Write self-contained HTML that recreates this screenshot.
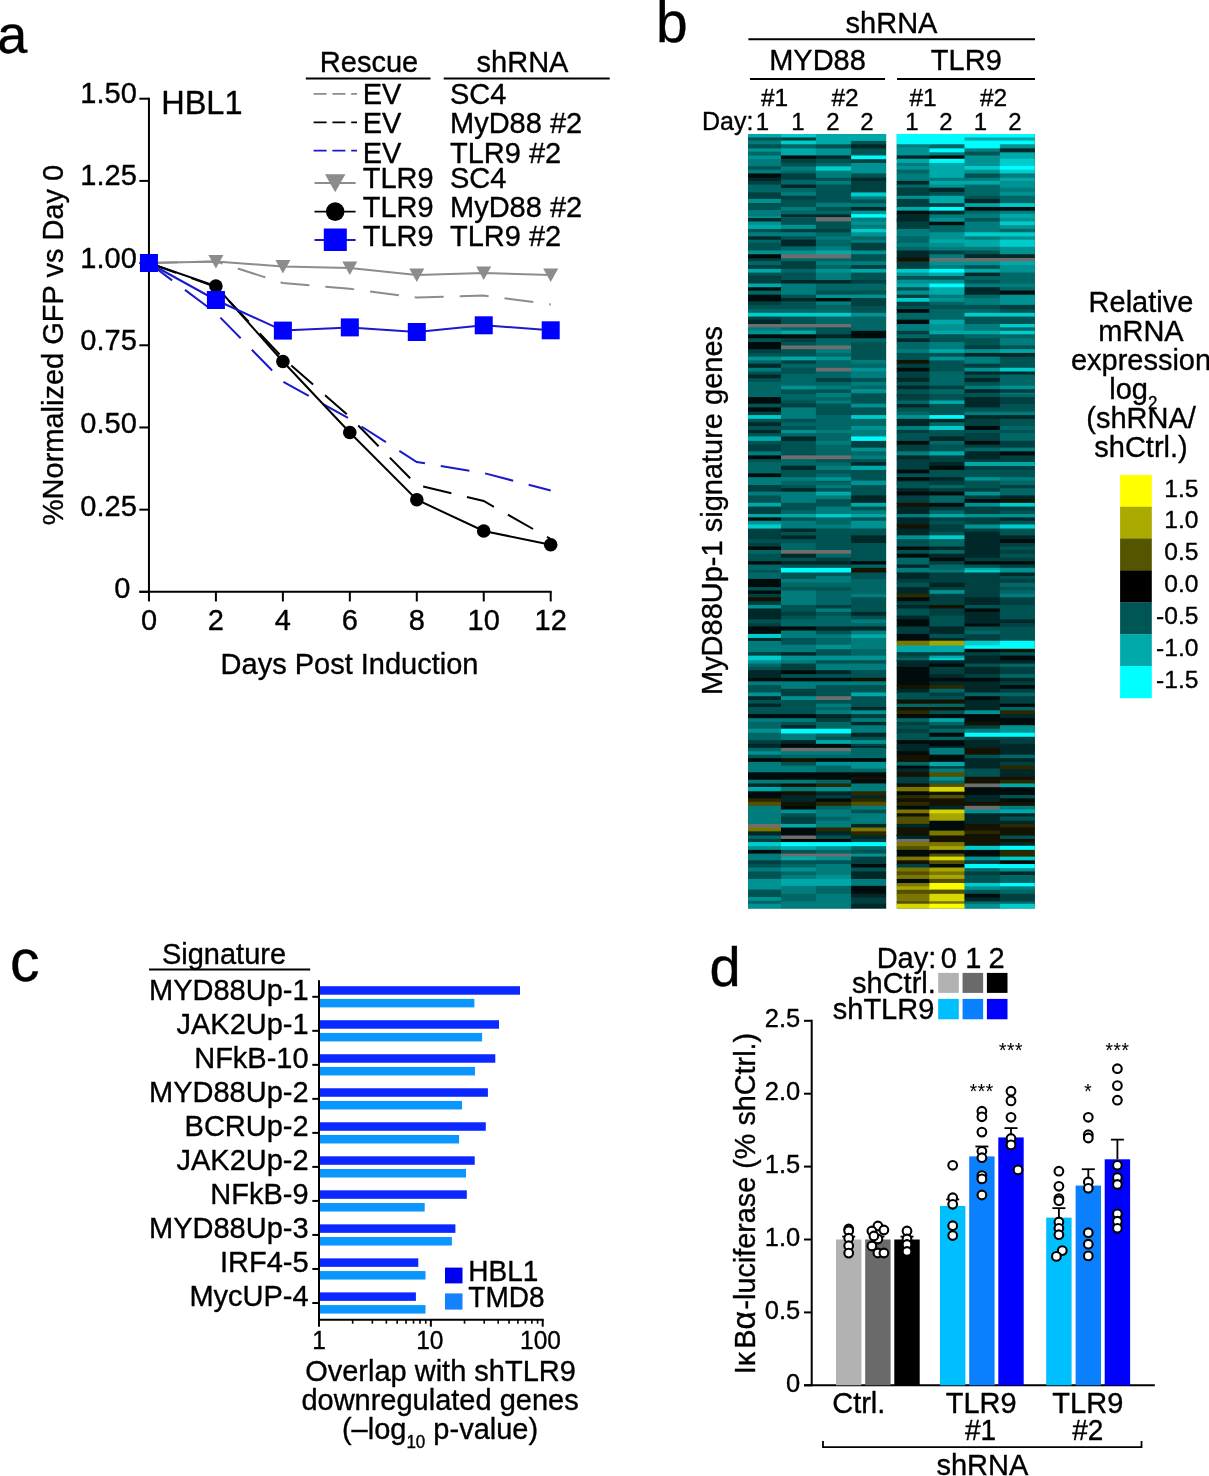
<!DOCTYPE html>
<html lang="en">
<head>
<meta charset="utf-8">
<title>Figure</title>
<style>
html,body{margin:0;padding:0;background:#fff;}
body{width:1209px;height:1476px;overflow:hidden;}
svg{display:block;font-family:'Liberation Sans', 'DejaVu Sans', sans-serif;}
text{stroke:#000;stroke-width:0.35px;stroke-linejoin:round;}
</style>
</head>
<body>
<svg width="1209" height="1476" viewBox="0 0 1209 1476">
<rect width="1209" height="1476" fill="#ffffff"/>
<g id="panel-a">
<text transform="translate(-2.80,52.50) scale(1,1.0)" font-size="54" text-anchor="start" fill="#000" >a</text>
<line x1="148.95" y1="97.70" x2="148.95" y2="592.85" stroke="#000" stroke-width="2" />
<line x1="139.35" y1="591.85" x2="551.71" y2="591.85" stroke="#000" stroke-width="2" />
<line x1="139.35" y1="591.85" x2="148.95" y2="591.85" stroke="#000" stroke-width="2" />
<text transform="translate(130.50,598.10) scale(1,1.04)" font-size="29" text-anchor="end" fill="#000" >0</text>
<line x1="139.35" y1="509.66" x2="148.95" y2="509.66" stroke="#000" stroke-width="2" />
<text transform="translate(136.80,515.55) scale(1,1.04)" font-size="29" text-anchor="end" fill="#000" >0.25</text>
<line x1="139.35" y1="427.47" x2="148.95" y2="427.47" stroke="#000" stroke-width="2" />
<text transform="translate(136.80,433.00) scale(1,1.04)" font-size="29" text-anchor="end" fill="#000" >0.50</text>
<line x1="139.35" y1="345.28" x2="148.95" y2="345.28" stroke="#000" stroke-width="2" />
<text transform="translate(136.80,350.45) scale(1,1.04)" font-size="29" text-anchor="end" fill="#000" >0.75</text>
<line x1="139.35" y1="263.09" x2="148.95" y2="263.09" stroke="#000" stroke-width="2" />
<text transform="translate(136.80,267.90) scale(1,1.04)" font-size="29" text-anchor="end" fill="#000" >1.00</text>
<line x1="139.35" y1="180.90" x2="148.95" y2="180.90" stroke="#000" stroke-width="2" />
<text transform="translate(136.80,185.35) scale(1,1.04)" font-size="29" text-anchor="end" fill="#000" >1.25</text>
<line x1="139.35" y1="98.71" x2="148.95" y2="98.71" stroke="#000" stroke-width="2" />
<text transform="translate(136.80,102.80) scale(1,1.04)" font-size="29" text-anchor="end" fill="#000" >1.50</text>
<line x1="148.95" y1="591.85" x2="148.95" y2="601.45" stroke="#000" stroke-width="2" />
<text transform="translate(148.95,629.60) scale(1,1.04)" font-size="29" text-anchor="middle" fill="#000" >0</text>
<line x1="215.91" y1="591.85" x2="215.91" y2="601.45" stroke="#000" stroke-width="2" />
<text transform="translate(215.91,629.60) scale(1,1.04)" font-size="29" text-anchor="middle" fill="#000" >2</text>
<line x1="282.87" y1="591.85" x2="282.87" y2="601.45" stroke="#000" stroke-width="2" />
<text transform="translate(282.87,629.60) scale(1,1.04)" font-size="29" text-anchor="middle" fill="#000" >4</text>
<line x1="349.83" y1="591.85" x2="349.83" y2="601.45" stroke="#000" stroke-width="2" />
<text transform="translate(349.83,629.60) scale(1,1.04)" font-size="29" text-anchor="middle" fill="#000" >6</text>
<line x1="416.79" y1="591.85" x2="416.79" y2="601.45" stroke="#000" stroke-width="2" />
<text transform="translate(416.79,629.60) scale(1,1.04)" font-size="29" text-anchor="middle" fill="#000" >8</text>
<line x1="483.75" y1="591.85" x2="483.75" y2="601.45" stroke="#000" stroke-width="2" />
<text transform="translate(483.75,629.60) scale(1,1.04)" font-size="29" text-anchor="middle" fill="#000" >10</text>
<line x1="550.71" y1="591.85" x2="550.71" y2="601.45" stroke="#000" stroke-width="2" />
<text transform="translate(550.71,629.60) scale(1,1.04)" font-size="29" text-anchor="middle" fill="#000" >12</text>
<text transform="translate(349.50,674.00) scale(1,1.04)" font-size="29" text-anchor="middle" fill="#000" >Days Post Induction</text>
<text transform="translate(62.70,345.00) rotate(-90) scale(1,1.04)" font-size="29" text-anchor="middle">%Normalized GFP vs Day 0</text>
<text transform="translate(161.20,113.60) scale(1,1.04)" font-size="32.5" text-anchor="start" fill="#000" >HBL1</text>
<polyline points="148.9,263.0 215.9,261.5 282.9,283.0 349.8,288.8 416.8,297.5 483.7,295.6 550.7,304.4" fill="none" stroke="#8c8c8c" stroke-width="2" stroke-dasharray="29 16"/>
<polyline points="148.9,263.0 215.9,287.0 282.9,358.0 349.8,417.0 416.8,485.0 483.7,501.0 550.7,539.0" fill="none" stroke="#000" stroke-width="2" stroke-dasharray="29 16"/>
<polyline points="148.9,263.0 215.9,313.0 282.9,381.5 349.8,419.0 416.8,462.0 483.7,473.0 550.7,490.5" fill="none" stroke="#1a1acd" stroke-width="2" stroke-dasharray="29 16"/>
<polyline points="148.9,263.0 215.9,261.5 282.9,266.5 349.8,268.0 416.8,275.0 483.7,273.0 550.7,275.0" fill="none" stroke="#8c8c8c" stroke-width="2"/>
<polyline points="148.9,263.0 215.9,286.0 282.9,361.5 349.8,432.5 416.8,499.7 483.7,531.0 550.7,544.7" fill="none" stroke="#000" stroke-width="2"/>
<polyline points="148.9,263.0 215.9,300.0 282.9,330.6 349.8,327.4 416.8,332.0 483.7,325.3 550.7,330.3" fill="none" stroke="#1a1acd" stroke-width="2"/>
<polygon points="208.4,255.0 223.4,255.0 215.9,268.5" fill="#8c8c8c"/>
<polygon points="275.4,260.0 290.4,260.0 282.9,273.5" fill="#8c8c8c"/>
<polygon points="342.3,261.5 357.3,261.5 349.8,275.0" fill="#8c8c8c"/>
<polygon points="409.3,268.5 424.3,268.5 416.8,282.0" fill="#8c8c8c"/>
<polygon points="476.2,266.5 491.2,266.5 483.7,280.0" fill="#8c8c8c"/>
<polygon points="543.2,268.5 558.2,268.5 550.7,282.0" fill="#8c8c8c"/>
<circle cx="215.9" cy="286.0" r="6.8" fill="#000"/>
<circle cx="282.9" cy="361.5" r="6.8" fill="#000"/>
<circle cx="349.8" cy="432.5" r="6.8" fill="#000"/>
<circle cx="416.8" cy="499.7" r="6.8" fill="#000"/>
<circle cx="483.7" cy="531.0" r="6.8" fill="#000"/>
<circle cx="550.7" cy="544.7" r="6.8" fill="#000"/>
<rect x="139.95" y="254.00" width="18.00" height="18.00" fill="#0000ff"/>
<rect x="206.91" y="291.00" width="18.00" height="18.00" fill="#0000ff"/>
<rect x="273.87" y="321.60" width="18.00" height="18.00" fill="#0000ff"/>
<rect x="340.83" y="318.40" width="18.00" height="18.00" fill="#0000ff"/>
<rect x="407.79" y="323.00" width="18.00" height="18.00" fill="#0000ff"/>
<rect x="474.75" y="316.30" width="18.00" height="18.00" fill="#0000ff"/>
<rect x="541.71" y="321.30" width="18.00" height="18.00" fill="#0000ff"/>
<text transform="translate(369.00,71.80) scale(1,1.04)" font-size="29" text-anchor="middle" fill="#000" >Rescue</text>
<text transform="translate(522.50,71.80) scale(1,1.04)" font-size="29" text-anchor="middle" fill="#000" >shRNA</text>
<line x1="305.80" y1="78.40" x2="430.50" y2="78.40" stroke="#000" stroke-width="2" />
<line x1="443.70" y1="78.40" x2="609.70" y2="78.40" stroke="#000" stroke-width="2" />
<text transform="translate(362.70,104.10) scale(1,1.04)" font-size="29" text-anchor="start" fill="#000" >EV</text>
<text transform="translate(450.00,104.10) scale(1,1.04)" font-size="29" text-anchor="start" fill="#000" >SC4</text>
<text transform="translate(362.70,133.20) scale(1,1.04)" font-size="29" text-anchor="start" fill="#000" >EV</text>
<text transform="translate(450.00,133.20) scale(1,1.04)" font-size="29" text-anchor="start" fill="#000" >MyD88 #2</text>
<text transform="translate(362.70,162.80) scale(1,1.04)" font-size="29" text-anchor="start" fill="#000" >EV</text>
<text transform="translate(450.00,162.80) scale(1,1.04)" font-size="29" text-anchor="start" fill="#000" >TLR9 #2</text>
<text transform="translate(362.70,188.00) scale(1,1.04)" font-size="29" text-anchor="start" fill="#000" >TLR9</text>
<text transform="translate(450.00,188.00) scale(1,1.04)" font-size="29" text-anchor="start" fill="#000" >SC4</text>
<text transform="translate(362.70,216.60) scale(1,1.04)" font-size="29" text-anchor="start" fill="#000" >TLR9</text>
<text transform="translate(450.00,216.60) scale(1,1.04)" font-size="29" text-anchor="start" fill="#000" >MyD88 #2</text>
<text transform="translate(362.70,245.60) scale(1,1.04)" font-size="29" text-anchor="start" fill="#000" >TLR9</text>
<text transform="translate(450.00,245.60) scale(1,1.04)" font-size="29" text-anchor="start" fill="#000" >TLR9 #2</text>
<line x1="313.60" y1="93.90" x2="357.00" y2="93.90" stroke="#8c8c8c" stroke-width="1.8" stroke-dasharray="13 5.8"/>
<line x1="313.60" y1="122.40" x2="357.00" y2="122.40" stroke="#000" stroke-width="1.8" stroke-dasharray="13 5.8"/>
<line x1="313.60" y1="150.60" x2="357.00" y2="150.60" stroke="#1a1acd" stroke-width="1.8" stroke-dasharray="13 5.8"/>
<line x1="314.50" y1="183.00" x2="355.60" y2="183.00" stroke="#8c8c8c" stroke-width="1.8" />
<polygon points="325,174.3 345.4,174.3 335.2,192.3" fill="#8c8c8c"/>
<line x1="314.50" y1="211.60" x2="355.60" y2="211.60" stroke="#000" stroke-width="1.8" />
<circle cx="335.2" cy="211.6" r="9.3" fill="#000"/>
<line x1="314.50" y1="240.00" x2="355.60" y2="240.00" stroke="#1a1acd" stroke-width="1.8" />
<rect x="323.80" y="228.50" width="23.00" height="22.50" fill="#0000ff"/>
</g>
<g id="panel-b">
<text transform="translate(656.00,41.70) scale(1,1.0)" font-size="57" text-anchor="start" fill="#000" >b</text>
<text transform="translate(891.50,33.00) scale(1,1.04)" font-size="29" text-anchor="middle" fill="#000" >shRNA</text>
<line x1="748.40" y1="39.30" x2="1035.00" y2="39.30" stroke="#000" stroke-width="2" />
<text transform="translate(817.50,69.50) scale(1,1.04)" font-size="29" text-anchor="middle" fill="#000" >MYD88</text>
<text transform="translate(966.30,69.50) scale(1,1.04)" font-size="29" text-anchor="middle" fill="#000" >TLR9</text>
<line x1="750.00" y1="78.90" x2="885.00" y2="78.90" stroke="#000" stroke-width="2" />
<line x1="897.00" y1="78.90" x2="1035.00" y2="78.90" stroke="#000" stroke-width="2" />
<text transform="translate(774.50,106.00) scale(1,1.0)" font-size="24.5" text-anchor="middle" fill="#000" >#1</text>
<text transform="translate(845.00,106.00) scale(1,1.0)" font-size="24.5" text-anchor="middle" fill="#000" >#2</text>
<text transform="translate(923.00,106.00) scale(1,1.0)" font-size="24.5" text-anchor="middle" fill="#000" >#1</text>
<text transform="translate(993.50,106.00) scale(1,1.0)" font-size="24.5" text-anchor="middle" fill="#000" >#2</text>
<text transform="translate(702.00,130.30) scale(1,1.04)" font-size="25" text-anchor="start" fill="#000" >Day:</text>
<text transform="translate(762.50,130.30) scale(1,0.98)" font-size="24" text-anchor="middle" fill="#000" >1</text>
<text transform="translate(798.00,130.30) scale(1,0.98)" font-size="24" text-anchor="middle" fill="#000" >1</text>
<text transform="translate(833.00,130.30) scale(1,0.98)" font-size="24" text-anchor="middle" fill="#000" >2</text>
<text transform="translate(867.00,130.30) scale(1,0.98)" font-size="24" text-anchor="middle" fill="#000" >2</text>
<text transform="translate(912.00,130.30) scale(1,0.98)" font-size="24" text-anchor="middle" fill="#000" >1</text>
<text transform="translate(946.00,130.30) scale(1,0.98)" font-size="24" text-anchor="middle" fill="#000" >2</text>
<text transform="translate(980.50,130.30) scale(1,0.98)" font-size="24" text-anchor="middle" fill="#000" >1</text>
<text transform="translate(1015.00,130.30) scale(1,0.98)" font-size="24" text-anchor="middle" fill="#000" >2</text>
<text transform="translate(721.70,510.50) rotate(-90) scale(1,1.04)" font-size="29" text-anchor="middle">MyD88Up-1 signature genes</text>
<defs><clipPath id="hc"><rect x="748.0" y="134.1" width="138.10000000000002" height="774.3"/><rect x="896.8" y="134.1" width="138.0" height="774.3"/></clipPath></defs>
<g id="heatmap" clip-path="url(#hc)"><g>
<rect x="745.00" y="130.10" width="144.10" height="782.30" fill="#005050"/>
<rect x="893.80" y="130.10" width="144.00" height="782.30" fill="#005050"/>
<rect x="745.00" y="130.10" width="36.80" height="8.54" fill="#00a9a9"/>
<rect x="745.00" y="137.44" width="36.80" height="4.30" fill="#005353"/>
<rect x="745.00" y="140.55" width="36.80" height="4.92" fill="#007c7c"/>
<rect x="745.00" y="144.27" width="36.80" height="5.29" fill="#005353"/>
<rect x="745.00" y="148.36" width="36.80" height="4.55" fill="#009292"/>
<rect x="745.00" y="151.71" width="36.80" height="4.92" fill="#006666"/>
<rect x="745.00" y="155.43" width="36.80" height="4.92" fill="#009292"/>
<rect x="745.00" y="159.16" width="36.80" height="8.40" fill="#007c7c"/>
<rect x="745.00" y="166.35" width="36.80" height="4.55" fill="#005353"/>
<rect x="745.00" y="169.70" width="36.80" height="4.92" fill="#007c7c"/>
<rect x="745.00" y="173.42" width="36.80" height="5.54" fill="#000c0c"/>
<rect x="745.00" y="177.77" width="36.80" height="4.30" fill="#002828"/>
<rect x="745.00" y="180.87" width="36.80" height="4.92" fill="#004040"/>
<rect x="745.00" y="184.59" width="36.80" height="9.02" fill="#006666"/>
<rect x="745.00" y="192.41" width="36.80" height="7.65" fill="#004040"/>
<rect x="745.00" y="198.86" width="36.80" height="5.29" fill="#009292"/>
<rect x="745.00" y="202.95" width="36.80" height="8.27" fill="#005353"/>
<rect x="745.00" y="210.02" width="36.80" height="7.40" fill="#007c7c"/>
<rect x="745.00" y="216.23" width="36.80" height="4.92" fill="#009292"/>
<rect x="781.00" y="130.10" width="35.70" height="8.54" fill="#00cccc"/>
<rect x="781.00" y="137.44" width="35.70" height="4.30" fill="#004040"/>
<rect x="781.00" y="140.55" width="35.70" height="4.92" fill="#00cccc"/>
<rect x="781.00" y="144.27" width="35.70" height="5.29" fill="#006666"/>
<rect x="781.00" y="148.36" width="35.70" height="8.27" fill="#00a9a9"/>
<rect x="781.00" y="155.43" width="35.70" height="4.55" fill="#000c0c"/>
<rect x="781.00" y="158.78" width="35.70" height="5.29" fill="#004040"/>
<rect x="781.00" y="162.88" width="35.70" height="4.67" fill="#005353"/>
<rect x="781.00" y="166.35" width="35.70" height="5.54" fill="#007c7c"/>
<rect x="781.00" y="170.69" width="35.70" height="3.93" fill="#006666"/>
<rect x="781.00" y="173.42" width="35.70" height="7.40" fill="#004040"/>
<rect x="781.00" y="179.63" width="35.70" height="6.16" fill="#006666"/>
<rect x="781.00" y="184.59" width="35.70" height="4.67" fill="#002828"/>
<rect x="781.00" y="188.06" width="35.70" height="5.17" fill="#006666"/>
<rect x="781.00" y="192.03" width="35.70" height="4.92" fill="#007c7c"/>
<rect x="781.00" y="195.76" width="35.70" height="4.92" fill="#004040"/>
<rect x="781.00" y="199.48" width="35.70" height="8.64" fill="#005353"/>
<rect x="781.00" y="206.92" width="35.70" height="4.92" fill="#007c7c"/>
<rect x="781.00" y="210.65" width="35.70" height="4.92" fill="#006666"/>
<rect x="781.00" y="214.37" width="35.70" height="3.93" fill="#002828"/>
<rect x="781.00" y="217.10" width="35.70" height="4.05" fill="#006666"/>
<rect x="815.90" y="130.10" width="36.00" height="15.37" fill="#00a9a9"/>
<rect x="815.90" y="144.27" width="36.00" height="5.29" fill="#005353"/>
<rect x="815.90" y="148.36" width="36.00" height="8.27" fill="#009292"/>
<rect x="815.90" y="155.43" width="36.00" height="4.55" fill="#002828"/>
<rect x="815.90" y="158.78" width="36.00" height="5.29" fill="#005353"/>
<rect x="815.90" y="162.88" width="36.00" height="4.67" fill="#006666"/>
<rect x="815.90" y="166.35" width="36.00" height="5.54" fill="#00cccc"/>
<rect x="815.90" y="170.69" width="36.00" height="8.27" fill="#007c7c"/>
<rect x="815.90" y="177.77" width="36.00" height="4.30" fill="#005353"/>
<rect x="815.90" y="180.87" width="36.00" height="4.92" fill="#007c7c"/>
<rect x="815.90" y="184.59" width="36.00" height="19.19" fill="#005353"/>
<rect x="815.90" y="202.58" width="36.00" height="5.54" fill="#007c7c"/>
<rect x="815.90" y="206.92" width="36.00" height="4.92" fill="#005353"/>
<rect x="815.90" y="210.65" width="36.00" height="4.92" fill="#006666"/>
<rect x="815.90" y="214.37" width="36.00" height="3.93" fill="#002828"/>
<rect x="815.90" y="217.10" width="36.00" height="4.05" fill="#6e6e6e"/>
<rect x="851.10" y="130.10" width="38.00" height="12.02" fill="#00a9a9"/>
<rect x="851.10" y="140.92" width="38.00" height="4.55" fill="#005353"/>
<rect x="851.10" y="144.27" width="38.00" height="5.29" fill="#002828"/>
<rect x="851.10" y="148.36" width="38.00" height="8.27" fill="#005353"/>
<rect x="851.10" y="155.43" width="38.00" height="4.92" fill="#00fcfc"/>
<rect x="851.10" y="159.16" width="38.00" height="4.92" fill="#004040"/>
<rect x="851.10" y="162.88" width="38.00" height="11.75" fill="#009292"/>
<rect x="851.10" y="173.42" width="38.00" height="5.54" fill="#005353"/>
<rect x="851.10" y="177.77" width="38.00" height="4.30" fill="#002828"/>
<rect x="851.10" y="180.87" width="38.00" height="12.74" fill="#004040"/>
<rect x="851.10" y="192.41" width="38.00" height="5.17" fill="#00cccc"/>
<rect x="851.10" y="196.38" width="38.00" height="4.30" fill="#007c7c"/>
<rect x="851.10" y="199.48" width="38.00" height="4.92" fill="#005353"/>
<rect x="851.10" y="203.20" width="38.00" height="4.92" fill="#007c7c"/>
<rect x="851.10" y="206.92" width="38.00" height="4.92" fill="#002828"/>
<rect x="851.10" y="210.65" width="38.00" height="4.67" fill="#009292"/>
<rect x="851.10" y="214.12" width="38.00" height="4.67" fill="#00fcfc"/>
<rect x="851.10" y="217.59" width="38.00" height="3.56" fill="#007c7c"/>
<rect x="893.80" y="130.10" width="36.40" height="15.37" fill="#00fcfc"/>
<rect x="893.80" y="144.27" width="36.40" height="4.30" fill="#007c7c"/>
<rect x="893.80" y="147.37" width="36.40" height="9.26" fill="#009292"/>
<rect x="893.80" y="155.43" width="36.40" height="4.55" fill="#002828"/>
<rect x="893.80" y="158.78" width="36.40" height="5.29" fill="#00a9a9"/>
<rect x="893.80" y="162.88" width="36.40" height="4.30" fill="#007c7c"/>
<rect x="893.80" y="165.98" width="36.40" height="4.92" fill="#009292"/>
<rect x="893.80" y="169.70" width="36.40" height="4.92" fill="#006666"/>
<rect x="893.80" y="173.42" width="36.40" height="8.64" fill="#007c7c"/>
<rect x="893.80" y="180.87" width="36.40" height="4.92" fill="#002828"/>
<rect x="893.80" y="184.59" width="36.40" height="4.30" fill="#006666"/>
<rect x="893.80" y="187.69" width="36.40" height="9.26" fill="#004040"/>
<rect x="893.80" y="195.76" width="36.40" height="4.30" fill="#009292"/>
<rect x="893.80" y="198.86" width="36.40" height="9.26" fill="#004040"/>
<rect x="893.80" y="206.92" width="36.40" height="4.92" fill="#00a9a9"/>
<rect x="893.80" y="210.65" width="36.40" height="4.30" fill="#000c0c"/>
<rect x="893.80" y="213.75" width="36.40" height="7.40" fill="#002828"/>
<rect x="929.40" y="130.10" width="35.90" height="15.37" fill="#00fcfc"/>
<rect x="929.40" y="144.27" width="35.90" height="5.29" fill="#006666"/>
<rect x="929.40" y="148.36" width="35.90" height="5.17" fill="#00fcfc"/>
<rect x="929.40" y="152.33" width="35.90" height="4.30" fill="#007c7c"/>
<rect x="929.40" y="155.43" width="35.90" height="4.55" fill="#000c0c"/>
<rect x="929.40" y="158.78" width="35.90" height="5.29" fill="#00fcfc"/>
<rect x="929.40" y="162.88" width="35.90" height="16.09" fill="#00a9a9"/>
<rect x="929.40" y="177.77" width="35.90" height="4.30" fill="#007c7c"/>
<rect x="929.40" y="180.87" width="35.90" height="4.92" fill="#00a9a9"/>
<rect x="929.40" y="184.59" width="35.90" height="4.30" fill="#009292"/>
<rect x="929.40" y="187.69" width="35.90" height="5.54" fill="#002828"/>
<rect x="929.40" y="192.03" width="35.90" height="4.92" fill="#005353"/>
<rect x="929.40" y="195.76" width="35.90" height="8.64" fill="#00a9a9"/>
<rect x="929.40" y="203.20" width="35.90" height="4.92" fill="#004040"/>
<rect x="929.40" y="206.92" width="35.90" height="4.92" fill="#00fcfc"/>
<rect x="929.40" y="210.65" width="35.90" height="4.92" fill="#002828"/>
<rect x="929.40" y="214.37" width="35.90" height="6.78" fill="#007c7c"/>
<rect x="964.50" y="130.10" width="36.20" height="8.54" fill="#00fcfc"/>
<rect x="964.50" y="137.44" width="36.20" height="4.30" fill="#00a9a9"/>
<rect x="964.50" y="140.55" width="36.20" height="9.02" fill="#00fcfc"/>
<rect x="964.50" y="148.36" width="36.20" height="4.55" fill="#007c7c"/>
<rect x="964.50" y="151.71" width="36.20" height="4.92" fill="#005353"/>
<rect x="964.50" y="155.43" width="36.20" height="11.75" fill="#009292"/>
<rect x="964.50" y="165.98" width="36.20" height="4.92" fill="#00cccc"/>
<rect x="964.50" y="169.70" width="36.20" height="4.92" fill="#009292"/>
<rect x="964.50" y="173.42" width="36.20" height="5.54" fill="#005353"/>
<rect x="964.50" y="177.77" width="36.20" height="4.30" fill="#007c7c"/>
<rect x="964.50" y="180.87" width="36.20" height="4.92" fill="#00a9a9"/>
<rect x="964.50" y="184.59" width="36.20" height="12.37" fill="#006666"/>
<rect x="964.50" y="195.76" width="36.20" height="4.30" fill="#005353"/>
<rect x="964.50" y="198.86" width="36.20" height="5.54" fill="#002828"/>
<rect x="964.50" y="203.20" width="36.20" height="4.92" fill="#00a9a9"/>
<rect x="964.50" y="206.92" width="36.20" height="4.92" fill="#000c0c"/>
<rect x="964.50" y="210.65" width="36.20" height="4.30" fill="#006666"/>
<rect x="964.50" y="213.75" width="36.20" height="7.40" fill="#007c7c"/>
<rect x="999.90" y="130.10" width="37.90" height="8.54" fill="#00fcfc"/>
<rect x="999.90" y="137.44" width="37.90" height="4.30" fill="#00a9a9"/>
<rect x="999.90" y="140.55" width="37.90" height="4.92" fill="#00fcfc"/>
<rect x="999.90" y="144.27" width="37.90" height="5.29" fill="#009292"/>
<rect x="999.90" y="148.36" width="37.90" height="5.17" fill="#002828"/>
<rect x="999.90" y="152.33" width="37.90" height="7.65" fill="#00a9a9"/>
<rect x="999.90" y="158.78" width="37.90" height="8.40" fill="#00cccc"/>
<rect x="999.90" y="165.98" width="37.90" height="4.92" fill="#00fcfc"/>
<rect x="999.90" y="169.70" width="37.90" height="4.92" fill="#00cccc"/>
<rect x="999.90" y="173.42" width="37.90" height="5.54" fill="#007c7c"/>
<rect x="999.90" y="177.77" width="37.90" height="4.30" fill="#00a9a9"/>
<rect x="999.90" y="180.87" width="37.90" height="8.02" fill="#009292"/>
<rect x="999.90" y="187.69" width="37.90" height="5.54" fill="#007c7c"/>
<rect x="999.90" y="192.03" width="37.90" height="4.92" fill="#009292"/>
<rect x="999.90" y="195.76" width="37.90" height="8.64" fill="#006666"/>
<rect x="999.90" y="203.20" width="37.90" height="4.92" fill="#00cccc"/>
<rect x="999.90" y="206.92" width="37.90" height="4.92" fill="#000c0c"/>
<rect x="999.90" y="210.65" width="37.90" height="4.30" fill="#007c7c"/>
<rect x="999.90" y="213.75" width="37.90" height="7.40" fill="#00a9a9"/>
<rect x="745.00" y="218.00" width="36.80" height="4.67" fill="#002828"/>
<rect x="745.00" y="221.47" width="36.80" height="4.55" fill="#009292"/>
<rect x="745.00" y="224.82" width="36.80" height="5.29" fill="#00a9a9"/>
<rect x="745.00" y="228.92" width="36.80" height="4.55" fill="#005353"/>
<rect x="745.00" y="232.27" width="36.80" height="5.29" fill="#007c7c"/>
<rect x="745.00" y="236.36" width="36.80" height="4.55" fill="#002828"/>
<rect x="745.00" y="239.71" width="36.80" height="4.30" fill="#006666"/>
<rect x="745.00" y="242.81" width="36.80" height="8.89" fill="#005353"/>
<rect x="745.00" y="250.51" width="36.80" height="4.92" fill="#009292"/>
<rect x="745.00" y="254.23" width="36.80" height="5.29" fill="#000c0c"/>
<rect x="745.00" y="258.32" width="36.80" height="4.05" fill="#004040"/>
<rect x="745.00" y="261.18" width="36.80" height="5.17" fill="#006666"/>
<rect x="745.00" y="265.15" width="36.80" height="4.92" fill="#004040"/>
<rect x="745.00" y="268.87" width="36.80" height="4.92" fill="#00a9a9"/>
<rect x="745.00" y="272.59" width="36.80" height="4.30" fill="#005353"/>
<rect x="745.00" y="275.69" width="36.80" height="9.02" fill="#004040"/>
<rect x="745.00" y="283.51" width="36.80" height="4.92" fill="#00a9a9"/>
<rect x="745.00" y="287.23" width="36.80" height="4.55" fill="#000c0c"/>
<rect x="745.00" y="290.58" width="36.80" height="5.29" fill="#006666"/>
<rect x="745.00" y="294.67" width="36.80" height="7.90" fill="#000c0c"/>
<rect x="745.00" y="301.37" width="36.80" height="4.67" fill="#004040"/>
<rect x="745.00" y="304.85" width="36.80" height="4.30" fill="#005353"/>
<rect x="781.00" y="218.00" width="35.70" height="8.02" fill="#005353"/>
<rect x="781.00" y="224.82" width="35.70" height="5.29" fill="#009292"/>
<rect x="781.00" y="228.92" width="35.70" height="4.55" fill="#004040"/>
<rect x="781.00" y="232.27" width="35.70" height="5.29" fill="#007c7c"/>
<rect x="781.00" y="236.36" width="35.70" height="4.55" fill="#005353"/>
<rect x="781.00" y="239.71" width="35.70" height="7.78" fill="#002828"/>
<rect x="781.00" y="246.29" width="35.70" height="5.42" fill="#006666"/>
<rect x="781.00" y="250.51" width="35.70" height="4.92" fill="#009292"/>
<rect x="781.00" y="254.23" width="35.70" height="5.29" fill="#6e6e6e"/>
<rect x="781.00" y="258.32" width="35.70" height="4.05" fill="#006666"/>
<rect x="781.00" y="261.18" width="35.70" height="8.89" fill="#004040"/>
<rect x="781.00" y="268.87" width="35.70" height="4.92" fill="#006666"/>
<rect x="781.00" y="272.59" width="35.70" height="8.64" fill="#005353"/>
<rect x="781.00" y="280.03" width="35.70" height="4.67" fill="#002828"/>
<rect x="781.00" y="283.51" width="35.70" height="12.37" fill="#007c7c"/>
<rect x="781.00" y="294.67" width="35.70" height="4.55" fill="#005353"/>
<rect x="781.00" y="298.02" width="35.70" height="4.55" fill="#002828"/>
<rect x="781.00" y="301.37" width="35.70" height="7.78" fill="#005353"/>
<rect x="815.90" y="218.00" width="36.00" height="4.67" fill="#6e6e6e"/>
<rect x="815.90" y="221.47" width="36.00" height="8.64" fill="#005353"/>
<rect x="815.90" y="228.92" width="36.00" height="4.55" fill="#004040"/>
<rect x="815.90" y="232.27" width="36.00" height="5.29" fill="#006666"/>
<rect x="815.90" y="236.36" width="36.00" height="4.55" fill="#007c7c"/>
<rect x="815.90" y="239.71" width="36.00" height="7.78" fill="#006666"/>
<rect x="815.90" y="246.29" width="36.00" height="5.42" fill="#007c7c"/>
<rect x="815.90" y="250.51" width="36.00" height="4.92" fill="#00a9a9"/>
<rect x="815.90" y="254.23" width="36.00" height="5.29" fill="#6e6e6e"/>
<rect x="815.90" y="258.32" width="36.00" height="4.05" fill="#006666"/>
<rect x="815.90" y="261.18" width="36.00" height="5.17" fill="#007c7c"/>
<rect x="815.90" y="265.15" width="36.00" height="4.92" fill="#006666"/>
<rect x="815.90" y="268.87" width="36.00" height="4.92" fill="#009292"/>
<rect x="815.90" y="272.59" width="36.00" height="8.64" fill="#007c7c"/>
<rect x="815.90" y="280.03" width="36.00" height="4.67" fill="#002828"/>
<rect x="815.90" y="283.51" width="36.00" height="8.27" fill="#006666"/>
<rect x="815.90" y="290.58" width="36.00" height="5.29" fill="#005353"/>
<rect x="815.90" y="294.67" width="36.00" height="4.55" fill="#009292"/>
<rect x="815.90" y="298.02" width="36.00" height="4.55" fill="#000c0c"/>
<rect x="815.90" y="301.37" width="36.00" height="4.67" fill="#007c7c"/>
<rect x="815.90" y="304.85" width="36.00" height="4.30" fill="#006666"/>
<rect x="851.10" y="218.00" width="38.00" height="4.67" fill="#007c7c"/>
<rect x="851.10" y="221.47" width="38.00" height="4.55" fill="#009292"/>
<rect x="851.10" y="224.82" width="38.00" height="5.29" fill="#007c7c"/>
<rect x="851.10" y="228.92" width="38.00" height="4.55" fill="#00cccc"/>
<rect x="851.10" y="232.27" width="38.00" height="5.29" fill="#009292"/>
<rect x="851.10" y="236.36" width="38.00" height="4.55" fill="#006666"/>
<rect x="851.10" y="239.71" width="38.00" height="4.30" fill="#007c7c"/>
<rect x="851.10" y="242.81" width="38.00" height="8.89" fill="#004040"/>
<rect x="851.10" y="250.51" width="38.00" height="4.92" fill="#009292"/>
<rect x="851.10" y="254.23" width="38.00" height="8.15" fill="#005353"/>
<rect x="851.10" y="261.18" width="38.00" height="5.17" fill="#007c7c"/>
<rect x="851.10" y="265.15" width="38.00" height="4.92" fill="#004040"/>
<rect x="851.10" y="268.87" width="38.00" height="4.92" fill="#00a9a9"/>
<rect x="851.10" y="272.59" width="38.00" height="8.64" fill="#005353"/>
<rect x="851.10" y="280.03" width="38.00" height="4.67" fill="#004040"/>
<rect x="851.10" y="283.51" width="38.00" height="8.27" fill="#006666"/>
<rect x="851.10" y="290.58" width="38.00" height="5.29" fill="#005353"/>
<rect x="851.10" y="294.67" width="38.00" height="4.55" fill="#009292"/>
<rect x="851.10" y="298.02" width="38.00" height="11.13" fill="#004040"/>
<rect x="893.80" y="218.00" width="36.40" height="4.67" fill="#002828"/>
<rect x="893.80" y="221.47" width="36.40" height="8.64" fill="#004040"/>
<rect x="893.80" y="228.92" width="36.40" height="8.64" fill="#007c7c"/>
<rect x="893.80" y="236.36" width="36.40" height="7.65" fill="#006666"/>
<rect x="893.80" y="242.81" width="36.40" height="5.17" fill="#007c7c"/>
<rect x="893.80" y="246.78" width="36.40" height="4.92" fill="#006666"/>
<rect x="893.80" y="250.51" width="36.40" height="8.40" fill="#002828"/>
<rect x="893.80" y="257.70" width="36.40" height="4.92" fill="#141200"/>
<rect x="893.80" y="261.42" width="36.40" height="8.64" fill="#004040"/>
<rect x="893.80" y="268.87" width="36.40" height="4.92" fill="#00cccc"/>
<rect x="893.80" y="272.59" width="36.40" height="4.67" fill="#009292"/>
<rect x="893.80" y="276.06" width="36.40" height="4.92" fill="#005353"/>
<rect x="893.80" y="279.79" width="36.40" height="4.92" fill="#009292"/>
<rect x="893.80" y="283.51" width="36.40" height="4.92" fill="#00a9a9"/>
<rect x="893.80" y="287.23" width="36.40" height="4.55" fill="#005353"/>
<rect x="893.80" y="290.58" width="36.40" height="5.29" fill="#009292"/>
<rect x="893.80" y="294.67" width="36.40" height="4.55" fill="#004040"/>
<rect x="893.80" y="298.02" width="36.40" height="4.92" fill="#00cccc"/>
<rect x="893.80" y="301.75" width="36.40" height="7.40" fill="#004040"/>
<rect x="929.40" y="218.00" width="35.90" height="4.92" fill="#009292"/>
<rect x="929.40" y="221.72" width="35.90" height="4.67" fill="#000c0c"/>
<rect x="929.40" y="225.20" width="35.90" height="8.27" fill="#006666"/>
<rect x="929.40" y="232.27" width="35.90" height="8.27" fill="#009292"/>
<rect x="929.40" y="239.34" width="35.90" height="4.67" fill="#00a9a9"/>
<rect x="929.40" y="242.81" width="35.90" height="5.17" fill="#009292"/>
<rect x="929.40" y="246.78" width="35.90" height="4.92" fill="#007c7c"/>
<rect x="929.40" y="250.51" width="35.90" height="4.92" fill="#004040"/>
<rect x="929.40" y="254.23" width="35.90" height="4.92" fill="#007c7c"/>
<rect x="929.40" y="257.95" width="35.90" height="4.67" fill="#6e6e6e"/>
<rect x="929.40" y="261.42" width="35.90" height="4.92" fill="#009292"/>
<rect x="929.40" y="265.15" width="35.90" height="4.92" fill="#007c7c"/>
<rect x="929.40" y="268.87" width="35.90" height="4.92" fill="#00fcfc"/>
<rect x="929.40" y="272.59" width="35.90" height="4.67" fill="#00a9a9"/>
<rect x="929.40" y="276.06" width="35.90" height="4.92" fill="#005353"/>
<rect x="929.40" y="279.79" width="35.90" height="4.92" fill="#009292"/>
<rect x="929.40" y="283.51" width="35.90" height="4.92" fill="#00fcfc"/>
<rect x="929.40" y="287.23" width="35.90" height="8.64" fill="#00a9a9"/>
<rect x="929.40" y="294.67" width="35.90" height="4.55" fill="#007c7c"/>
<rect x="929.40" y="298.02" width="35.90" height="4.92" fill="#009292"/>
<rect x="929.40" y="301.75" width="35.90" height="4.30" fill="#006666"/>
<rect x="929.40" y="304.85" width="35.90" height="4.30" fill="#005353"/>
<rect x="964.50" y="218.00" width="36.20" height="4.67" fill="#005353"/>
<rect x="964.50" y="221.47" width="36.20" height="11.99" fill="#007c7c"/>
<rect x="964.50" y="232.27" width="36.20" height="5.29" fill="#00cccc"/>
<rect x="964.50" y="236.36" width="36.20" height="4.55" fill="#007c7c"/>
<rect x="964.50" y="239.71" width="36.20" height="8.27" fill="#00a9a9"/>
<rect x="964.50" y="246.78" width="36.20" height="4.92" fill="#007c7c"/>
<rect x="964.50" y="250.51" width="36.20" height="4.92" fill="#005353"/>
<rect x="964.50" y="254.23" width="36.20" height="4.92" fill="#002828"/>
<rect x="964.50" y="257.95" width="36.20" height="4.67" fill="#6e6e6e"/>
<rect x="964.50" y="261.42" width="36.20" height="4.92" fill="#009292"/>
<rect x="964.50" y="265.15" width="36.20" height="4.92" fill="#005353"/>
<rect x="964.50" y="268.87" width="36.20" height="4.92" fill="#00a9a9"/>
<rect x="964.50" y="272.59" width="36.20" height="4.67" fill="#002828"/>
<rect x="964.50" y="276.06" width="36.20" height="4.92" fill="#006666"/>
<rect x="964.50" y="279.79" width="36.20" height="4.92" fill="#005353"/>
<rect x="964.50" y="283.51" width="36.20" height="4.92" fill="#007c7c"/>
<rect x="964.50" y="287.23" width="36.20" height="8.64" fill="#002828"/>
<rect x="964.50" y="294.67" width="36.20" height="4.55" fill="#006666"/>
<rect x="964.50" y="298.02" width="36.20" height="8.02" fill="#007c7c"/>
<rect x="964.50" y="304.85" width="36.20" height="4.30" fill="#005353"/>
<rect x="999.90" y="218.00" width="37.90" height="4.67" fill="#009292"/>
<rect x="999.90" y="221.47" width="37.90" height="4.92" fill="#00cccc"/>
<rect x="999.90" y="225.20" width="37.90" height="4.92" fill="#009292"/>
<rect x="999.90" y="228.92" width="37.90" height="4.55" fill="#006666"/>
<rect x="999.90" y="232.27" width="37.90" height="5.29" fill="#00cccc"/>
<rect x="999.90" y="236.36" width="37.90" height="4.55" fill="#009292"/>
<rect x="999.90" y="239.71" width="37.90" height="8.27" fill="#00cccc"/>
<rect x="999.90" y="246.78" width="37.90" height="8.64" fill="#009292"/>
<rect x="999.90" y="254.23" width="37.90" height="4.92" fill="#002828"/>
<rect x="999.90" y="257.95" width="37.90" height="4.67" fill="#6e6e6e"/>
<rect x="999.90" y="261.42" width="37.90" height="4.92" fill="#00a9a9"/>
<rect x="999.90" y="265.15" width="37.90" height="8.64" fill="#009292"/>
<rect x="999.90" y="272.59" width="37.90" height="8.40" fill="#006666"/>
<rect x="999.90" y="279.79" width="37.90" height="4.92" fill="#006666"/>
<rect x="999.90" y="283.51" width="37.90" height="4.92" fill="#007c7c"/>
<rect x="999.90" y="287.23" width="37.90" height="4.55" fill="#006666"/>
<rect x="999.90" y="290.58" width="37.90" height="5.29" fill="#000c0c"/>
<rect x="999.90" y="294.67" width="37.90" height="11.37" fill="#009292"/>
<rect x="999.90" y="304.85" width="37.90" height="4.30" fill="#004040"/>
<rect x="745.00" y="306.00" width="36.80" height="4.30" fill="#005353"/>
<rect x="745.00" y="309.10" width="36.80" height="4.92" fill="#006666"/>
<rect x="745.00" y="312.82" width="36.80" height="4.92" fill="#00cccc"/>
<rect x="745.00" y="316.55" width="36.80" height="4.30" fill="#004040"/>
<rect x="745.00" y="319.65" width="36.80" height="5.54" fill="#002828"/>
<rect x="745.00" y="323.99" width="36.80" height="4.55" fill="#6e6e6e"/>
<rect x="745.00" y="327.34" width="36.80" height="4.43" fill="#007c7c"/>
<rect x="745.00" y="330.57" width="36.80" height="4.92" fill="#009292"/>
<rect x="745.00" y="334.29" width="36.80" height="5.17" fill="#000c0c"/>
<rect x="745.00" y="338.26" width="36.80" height="4.92" fill="#005353"/>
<rect x="745.00" y="341.98" width="36.80" height="8.40" fill="#000c0c"/>
<rect x="745.00" y="349.18" width="36.80" height="4.92" fill="#004040"/>
<rect x="745.00" y="352.90" width="36.80" height="4.92" fill="#005353"/>
<rect x="745.00" y="356.62" width="36.80" height="4.92" fill="#009292"/>
<rect x="745.00" y="360.34" width="36.80" height="4.55" fill="#006666"/>
<rect x="745.00" y="363.69" width="36.80" height="5.29" fill="#002828"/>
<rect x="745.00" y="367.79" width="36.80" height="4.92" fill="#007c7c"/>
<rect x="745.00" y="371.51" width="36.80" height="4.18" fill="#005353"/>
<rect x="745.00" y="374.49" width="36.80" height="4.92" fill="#002828"/>
<rect x="745.00" y="378.21" width="36.80" height="4.92" fill="#005353"/>
<rect x="745.00" y="381.93" width="36.80" height="15.22" fill="#006666"/>
<rect x="781.00" y="306.00" width="35.70" height="4.30" fill="#005353"/>
<rect x="781.00" y="309.10" width="35.70" height="4.92" fill="#006666"/>
<rect x="781.00" y="312.82" width="35.70" height="4.92" fill="#00cccc"/>
<rect x="781.00" y="316.55" width="35.70" height="8.64" fill="#005353"/>
<rect x="781.00" y="323.99" width="35.70" height="4.55" fill="#6e6e6e"/>
<rect x="781.00" y="327.34" width="35.70" height="4.43" fill="#006666"/>
<rect x="781.00" y="330.57" width="35.70" height="4.92" fill="#00a9a9"/>
<rect x="781.00" y="334.29" width="35.70" height="5.17" fill="#000c0c"/>
<rect x="781.00" y="338.26" width="35.70" height="4.92" fill="#004040"/>
<rect x="781.00" y="341.98" width="35.70" height="4.67" fill="#005353"/>
<rect x="781.00" y="345.45" width="35.70" height="4.92" fill="#6e6e6e"/>
<rect x="781.00" y="349.18" width="35.70" height="8.64" fill="#005353"/>
<rect x="781.00" y="356.62" width="35.70" height="4.92" fill="#00a9a9"/>
<rect x="781.00" y="360.34" width="35.70" height="4.55" fill="#004040"/>
<rect x="781.00" y="363.69" width="35.70" height="5.29" fill="#006666"/>
<rect x="781.00" y="367.79" width="35.70" height="7.40" fill="#005353"/>
<rect x="781.00" y="373.99" width="35.70" height="12.86" fill="#006666"/>
<rect x="781.00" y="385.65" width="35.70" height="4.92" fill="#009292"/>
<rect x="781.00" y="389.37" width="35.70" height="7.78" fill="#005353"/>
<rect x="815.90" y="306.00" width="36.00" height="8.02" fill="#006666"/>
<rect x="815.90" y="312.82" width="36.00" height="4.92" fill="#00cccc"/>
<rect x="815.90" y="316.55" width="36.00" height="8.64" fill="#006666"/>
<rect x="815.90" y="323.99" width="36.00" height="4.55" fill="#6e6e6e"/>
<rect x="815.90" y="327.34" width="36.00" height="8.15" fill="#005353"/>
<rect x="815.90" y="334.29" width="36.00" height="5.17" fill="#002828"/>
<rect x="815.90" y="338.26" width="36.00" height="8.40" fill="#006666"/>
<rect x="815.90" y="345.45" width="36.00" height="4.92" fill="#6e6e6e"/>
<rect x="815.90" y="349.18" width="36.00" height="5.17" fill="#007c7c"/>
<rect x="815.90" y="353.15" width="36.00" height="4.67" fill="#006666"/>
<rect x="815.90" y="356.62" width="36.00" height="4.92" fill="#009292"/>
<rect x="815.90" y="360.34" width="36.00" height="8.64" fill="#006666"/>
<rect x="815.90" y="367.79" width="36.00" height="4.92" fill="#6e6e6e"/>
<rect x="815.90" y="371.51" width="36.00" height="7.65" fill="#006666"/>
<rect x="815.90" y="377.96" width="36.00" height="5.17" fill="#004040"/>
<rect x="815.90" y="381.93" width="36.00" height="4.92" fill="#006666"/>
<rect x="815.90" y="385.65" width="36.00" height="4.92" fill="#007c7c"/>
<rect x="815.90" y="389.37" width="36.00" height="4.67" fill="#005353"/>
<rect x="815.90" y="392.85" width="36.00" height="4.30" fill="#007c7c"/>
<rect x="851.10" y="306.00" width="38.00" height="8.02" fill="#005353"/>
<rect x="851.10" y="312.82" width="38.00" height="4.92" fill="#009292"/>
<rect x="851.10" y="316.55" width="38.00" height="15.47" fill="#006666"/>
<rect x="851.10" y="330.81" width="38.00" height="8.64" fill="#000c0c"/>
<rect x="851.10" y="338.26" width="38.00" height="4.92" fill="#006666"/>
<rect x="851.10" y="341.98" width="38.00" height="19.19" fill="#005353"/>
<rect x="851.10" y="359.97" width="38.00" height="4.92" fill="#007c7c"/>
<rect x="851.10" y="363.69" width="38.00" height="5.29" fill="#006666"/>
<rect x="851.10" y="367.79" width="38.00" height="4.92" fill="#009292"/>
<rect x="851.10" y="371.51" width="38.00" height="7.65" fill="#007c7c"/>
<rect x="851.10" y="377.96" width="38.00" height="5.17" fill="#005353"/>
<rect x="851.10" y="381.93" width="38.00" height="4.92" fill="#007c7c"/>
<rect x="851.10" y="385.65" width="38.00" height="4.67" fill="#006666"/>
<rect x="851.10" y="389.13" width="38.00" height="4.92" fill="#009292"/>
<rect x="851.10" y="392.85" width="38.00" height="4.30" fill="#006666"/>
<rect x="893.80" y="306.00" width="36.40" height="4.30" fill="#005353"/>
<rect x="893.80" y="309.10" width="36.40" height="4.92" fill="#000c0c"/>
<rect x="893.80" y="312.82" width="36.40" height="8.02" fill="#006666"/>
<rect x="893.80" y="319.65" width="36.40" height="5.54" fill="#000c0c"/>
<rect x="893.80" y="323.99" width="36.40" height="8.02" fill="#007c7c"/>
<rect x="893.80" y="330.81" width="36.40" height="4.67" fill="#004040"/>
<rect x="893.80" y="334.29" width="36.40" height="5.17" fill="#006666"/>
<rect x="893.80" y="338.26" width="36.40" height="4.92" fill="#002828"/>
<rect x="893.80" y="341.98" width="36.40" height="8.40" fill="#006666"/>
<rect x="893.80" y="349.18" width="36.40" height="4.92" fill="#007c7c"/>
<rect x="893.80" y="352.90" width="36.40" height="8.27" fill="#005353"/>
<rect x="893.80" y="359.97" width="36.40" height="4.92" fill="#141200"/>
<rect x="893.80" y="363.69" width="36.40" height="5.29" fill="#004040"/>
<rect x="893.80" y="367.79" width="36.40" height="4.92" fill="#000c0c"/>
<rect x="893.80" y="371.51" width="36.40" height="7.65" fill="#004040"/>
<rect x="893.80" y="377.96" width="36.40" height="5.17" fill="#002828"/>
<rect x="893.80" y="381.93" width="36.40" height="4.92" fill="#005353"/>
<rect x="893.80" y="385.65" width="36.40" height="4.67" fill="#002828"/>
<rect x="893.80" y="389.13" width="36.40" height="8.02" fill="#005353"/>
<rect x="929.40" y="306.00" width="35.90" height="4.30" fill="#005353"/>
<rect x="929.40" y="309.10" width="35.90" height="11.75" fill="#006666"/>
<rect x="929.40" y="319.65" width="35.90" height="5.54" fill="#00a9a9"/>
<rect x="929.40" y="323.99" width="35.90" height="8.02" fill="#009292"/>
<rect x="929.40" y="330.81" width="35.90" height="4.67" fill="#00a9a9"/>
<rect x="929.40" y="334.29" width="35.90" height="8.89" fill="#005353"/>
<rect x="929.40" y="341.98" width="35.90" height="8.40" fill="#007c7c"/>
<rect x="929.40" y="349.18" width="35.90" height="4.92" fill="#00a9a9"/>
<rect x="929.40" y="352.90" width="35.90" height="4.92" fill="#005353"/>
<rect x="929.40" y="356.62" width="35.90" height="4.92" fill="#009292"/>
<rect x="929.40" y="360.34" width="35.90" height="12.37" fill="#005353"/>
<rect x="929.40" y="371.51" width="35.90" height="15.34" fill="#006666"/>
<rect x="929.40" y="385.65" width="35.90" height="4.67" fill="#004040"/>
<rect x="929.40" y="389.13" width="35.90" height="8.02" fill="#006666"/>
<rect x="964.50" y="306.00" width="36.20" height="4.30" fill="#005353"/>
<rect x="964.50" y="309.10" width="36.20" height="4.92" fill="#006666"/>
<rect x="964.50" y="312.82" width="36.20" height="4.92" fill="#00cccc"/>
<rect x="964.50" y="316.55" width="36.20" height="8.64" fill="#005353"/>
<rect x="964.50" y="323.99" width="36.20" height="8.02" fill="#007c7c"/>
<rect x="964.50" y="330.81" width="36.20" height="4.67" fill="#00a9a9"/>
<rect x="964.50" y="334.29" width="36.20" height="5.17" fill="#006666"/>
<rect x="964.50" y="338.26" width="36.20" height="8.40" fill="#005353"/>
<rect x="964.50" y="345.45" width="36.20" height="4.92" fill="#004040"/>
<rect x="964.50" y="349.18" width="36.20" height="4.92" fill="#009292"/>
<rect x="964.50" y="352.90" width="36.20" height="4.92" fill="#002828"/>
<rect x="964.50" y="356.62" width="36.20" height="8.27" fill="#007c7c"/>
<rect x="964.50" y="363.69" width="36.20" height="5.29" fill="#004040"/>
<rect x="964.50" y="367.79" width="36.20" height="4.92" fill="#009292"/>
<rect x="964.50" y="371.51" width="36.20" height="4.18" fill="#002828"/>
<rect x="964.50" y="374.49" width="36.20" height="4.67" fill="#005353"/>
<rect x="964.50" y="377.96" width="36.20" height="5.17" fill="#002828"/>
<rect x="964.50" y="381.93" width="36.20" height="4.92" fill="#005353"/>
<rect x="964.50" y="385.65" width="36.20" height="4.67" fill="#007c7c"/>
<rect x="964.50" y="389.13" width="36.20" height="4.92" fill="#002828"/>
<rect x="964.50" y="392.85" width="36.20" height="4.30" fill="#005353"/>
<rect x="999.90" y="306.00" width="37.90" height="4.30" fill="#004040"/>
<rect x="999.90" y="309.10" width="37.90" height="4.92" fill="#005353"/>
<rect x="999.90" y="312.82" width="37.90" height="4.92" fill="#00cccc"/>
<rect x="999.90" y="316.55" width="37.90" height="8.64" fill="#005353"/>
<rect x="999.90" y="323.99" width="37.90" height="4.55" fill="#00cccc"/>
<rect x="999.90" y="327.34" width="37.90" height="4.67" fill="#006666"/>
<rect x="999.90" y="330.81" width="37.90" height="4.67" fill="#00cccc"/>
<rect x="999.90" y="334.29" width="37.90" height="5.17" fill="#006666"/>
<rect x="999.90" y="338.26" width="37.90" height="8.40" fill="#007c7c"/>
<rect x="999.90" y="345.45" width="37.90" height="4.92" fill="#005353"/>
<rect x="999.90" y="349.18" width="37.90" height="4.92" fill="#00a9a9"/>
<rect x="999.90" y="352.90" width="37.90" height="4.92" fill="#002828"/>
<rect x="999.90" y="356.62" width="37.90" height="12.37" fill="#005353"/>
<rect x="999.90" y="367.79" width="37.90" height="4.92" fill="#00cccc"/>
<rect x="999.90" y="371.51" width="37.90" height="4.18" fill="#002828"/>
<rect x="999.90" y="374.49" width="37.90" height="12.37" fill="#006666"/>
<rect x="999.90" y="385.65" width="37.90" height="4.67" fill="#009292"/>
<rect x="999.90" y="389.13" width="37.90" height="4.92" fill="#004040"/>
<rect x="999.90" y="392.85" width="37.90" height="4.30" fill="#007c7c"/>
<rect x="745.00" y="394.00" width="36.80" height="4.30" fill="#006666"/>
<rect x="745.00" y="397.10" width="36.80" height="7.78" fill="#000c0c"/>
<rect x="745.00" y="403.68" width="36.80" height="4.92" fill="#005353"/>
<rect x="745.00" y="407.40" width="36.80" height="5.42" fill="#000c0c"/>
<rect x="745.00" y="411.62" width="36.80" height="4.67" fill="#004040"/>
<rect x="745.00" y="415.09" width="36.80" height="4.92" fill="#00cccc"/>
<rect x="745.00" y="418.81" width="36.80" height="4.67" fill="#005353"/>
<rect x="745.00" y="422.29" width="36.80" height="4.92" fill="#002828"/>
<rect x="745.00" y="426.01" width="36.80" height="5.17" fill="#005353"/>
<rect x="745.00" y="429.98" width="36.80" height="4.30" fill="#002828"/>
<rect x="745.00" y="433.08" width="36.80" height="4.55" fill="#005353"/>
<rect x="745.00" y="436.43" width="36.80" height="5.67" fill="#00a9a9"/>
<rect x="745.00" y="440.90" width="36.80" height="4.92" fill="#005353"/>
<rect x="745.00" y="444.62" width="36.80" height="7.90" fill="#004040"/>
<rect x="745.00" y="451.32" width="36.80" height="5.29" fill="#007c7c"/>
<rect x="745.00" y="455.41" width="36.80" height="4.92" fill="#000c0c"/>
<rect x="745.00" y="459.14" width="36.80" height="4.30" fill="#005353"/>
<rect x="745.00" y="462.24" width="36.80" height="12.37" fill="#006666"/>
<rect x="745.00" y="473.40" width="36.80" height="4.92" fill="#000c0c"/>
<rect x="745.00" y="477.13" width="36.80" height="8.02" fill="#007c7c"/>
<rect x="781.00" y="394.00" width="35.70" height="7.65" fill="#006666"/>
<rect x="781.00" y="400.45" width="35.70" height="4.43" fill="#005353"/>
<rect x="781.00" y="403.68" width="35.70" height="4.92" fill="#004040"/>
<rect x="781.00" y="407.40" width="35.70" height="12.61" fill="#007c7c"/>
<rect x="781.00" y="418.81" width="35.70" height="4.67" fill="#005353"/>
<rect x="781.00" y="422.29" width="35.70" height="4.92" fill="#006666"/>
<rect x="781.00" y="426.01" width="35.70" height="5.17" fill="#005353"/>
<rect x="781.00" y="429.98" width="35.70" height="4.30" fill="#009292"/>
<rect x="781.00" y="433.08" width="35.70" height="4.55" fill="#006666"/>
<rect x="781.00" y="436.43" width="35.70" height="5.67" fill="#002828"/>
<rect x="781.00" y="440.90" width="35.70" height="15.72" fill="#005353"/>
<rect x="781.00" y="455.41" width="35.70" height="4.92" fill="#6e6e6e"/>
<rect x="781.00" y="459.14" width="35.70" height="7.78" fill="#006666"/>
<rect x="781.00" y="465.71" width="35.70" height="5.42" fill="#002828"/>
<rect x="781.00" y="469.93" width="35.70" height="8.40" fill="#005353"/>
<rect x="781.00" y="477.13" width="35.70" height="4.92" fill="#007c7c"/>
<rect x="781.00" y="480.85" width="35.70" height="4.30" fill="#006666"/>
<rect x="815.90" y="394.00" width="36.00" height="4.30" fill="#007c7c"/>
<rect x="815.90" y="397.10" width="36.00" height="4.55" fill="#006666"/>
<rect x="815.90" y="400.45" width="36.00" height="4.43" fill="#007c7c"/>
<rect x="815.90" y="403.68" width="36.00" height="12.61" fill="#005353"/>
<rect x="815.90" y="415.09" width="36.00" height="16.09" fill="#006666"/>
<rect x="815.90" y="429.98" width="36.00" height="4.30" fill="#007c7c"/>
<rect x="815.90" y="433.08" width="36.00" height="9.02" fill="#006666"/>
<rect x="815.90" y="440.90" width="36.00" height="4.92" fill="#007c7c"/>
<rect x="815.90" y="444.62" width="36.00" height="11.99" fill="#006666"/>
<rect x="815.90" y="455.41" width="36.00" height="4.92" fill="#6e6e6e"/>
<rect x="815.90" y="459.14" width="36.00" height="4.30" fill="#005353"/>
<rect x="815.90" y="462.24" width="36.00" height="4.67" fill="#006666"/>
<rect x="815.90" y="465.71" width="36.00" height="5.42" fill="#007c7c"/>
<rect x="815.90" y="469.93" width="36.00" height="4.67" fill="#005353"/>
<rect x="815.90" y="473.40" width="36.00" height="4.92" fill="#006666"/>
<rect x="815.90" y="477.13" width="36.00" height="4.92" fill="#009292"/>
<rect x="815.90" y="480.85" width="36.00" height="4.30" fill="#005353"/>
<rect x="851.10" y="394.00" width="38.00" height="10.88" fill="#005353"/>
<rect x="851.10" y="403.68" width="38.00" height="4.92" fill="#009292"/>
<rect x="851.10" y="407.40" width="38.00" height="8.89" fill="#005353"/>
<rect x="851.10" y="415.09" width="38.00" height="4.92" fill="#00cccc"/>
<rect x="851.10" y="418.81" width="38.00" height="8.40" fill="#006666"/>
<rect x="851.10" y="426.01" width="38.00" height="5.17" fill="#009292"/>
<rect x="851.10" y="429.98" width="38.00" height="7.65" fill="#007c7c"/>
<rect x="851.10" y="436.43" width="38.00" height="5.67" fill="#00fcfc"/>
<rect x="851.10" y="440.90" width="38.00" height="7.90" fill="#004040"/>
<rect x="851.10" y="447.60" width="38.00" height="4.92" fill="#009292"/>
<rect x="851.10" y="451.32" width="38.00" height="5.29" fill="#006666"/>
<rect x="851.10" y="455.41" width="38.00" height="4.92" fill="#007c7c"/>
<rect x="851.10" y="459.14" width="38.00" height="4.30" fill="#005353"/>
<rect x="851.10" y="462.24" width="38.00" height="4.67" fill="#002828"/>
<rect x="851.10" y="465.71" width="38.00" height="5.42" fill="#00a9a9"/>
<rect x="851.10" y="469.93" width="38.00" height="11.87" fill="#005353"/>
<rect x="851.10" y="480.60" width="38.00" height="4.55" fill="#009292"/>
<rect x="893.80" y="394.00" width="36.40" height="7.65" fill="#004040"/>
<rect x="893.80" y="400.45" width="36.40" height="4.67" fill="#006666"/>
<rect x="893.80" y="403.93" width="36.40" height="4.67" fill="#002828"/>
<rect x="893.80" y="407.40" width="36.40" height="5.42" fill="#005353"/>
<rect x="893.80" y="411.62" width="36.40" height="4.67" fill="#006666"/>
<rect x="893.80" y="415.09" width="36.40" height="4.92" fill="#009292"/>
<rect x="893.80" y="418.81" width="36.40" height="8.40" fill="#002828"/>
<rect x="893.80" y="426.01" width="36.40" height="5.17" fill="#007c7c"/>
<rect x="893.80" y="429.98" width="36.40" height="4.30" fill="#004040"/>
<rect x="893.80" y="433.08" width="36.40" height="9.02" fill="#005353"/>
<rect x="893.80" y="440.90" width="36.40" height="4.92" fill="#000c0c"/>
<rect x="893.80" y="444.62" width="36.40" height="7.90" fill="#004040"/>
<rect x="893.80" y="451.32" width="36.40" height="5.29" fill="#007c7c"/>
<rect x="893.80" y="455.41" width="36.40" height="4.92" fill="#002828"/>
<rect x="893.80" y="459.14" width="36.40" height="11.75" fill="#004040"/>
<rect x="893.80" y="469.68" width="36.40" height="4.92" fill="#000c0c"/>
<rect x="893.80" y="473.40" width="36.40" height="4.92" fill="#005353"/>
<rect x="893.80" y="477.13" width="36.40" height="4.67" fill="#000c0c"/>
<rect x="893.80" y="480.60" width="36.40" height="4.55" fill="#004040"/>
<rect x="929.40" y="394.00" width="35.90" height="7.65" fill="#005353"/>
<rect x="929.40" y="400.45" width="35.90" height="4.67" fill="#00a9a9"/>
<rect x="929.40" y="403.93" width="35.90" height="12.37" fill="#005353"/>
<rect x="929.40" y="415.09" width="35.90" height="4.92" fill="#00fcfc"/>
<rect x="929.40" y="418.81" width="35.90" height="4.67" fill="#002828"/>
<rect x="929.40" y="422.29" width="35.90" height="4.92" fill="#006666"/>
<rect x="929.40" y="426.01" width="35.90" height="5.17" fill="#00cccc"/>
<rect x="929.40" y="429.98" width="35.90" height="7.65" fill="#005353"/>
<rect x="929.40" y="436.43" width="35.90" height="5.67" fill="#002828"/>
<rect x="929.40" y="440.90" width="35.90" height="4.92" fill="#006666"/>
<rect x="929.40" y="444.62" width="35.90" height="7.90" fill="#005353"/>
<rect x="929.40" y="451.32" width="35.90" height="5.29" fill="#00a9a9"/>
<rect x="929.40" y="455.41" width="35.90" height="7.78" fill="#004040"/>
<rect x="929.40" y="461.99" width="35.90" height="4.92" fill="#002828"/>
<rect x="929.40" y="465.71" width="35.90" height="5.42" fill="#000c0c"/>
<rect x="929.40" y="469.93" width="35.90" height="8.40" fill="#005353"/>
<rect x="929.40" y="477.13" width="35.90" height="4.67" fill="#002828"/>
<rect x="929.40" y="480.60" width="35.90" height="4.55" fill="#004040"/>
<rect x="964.50" y="394.00" width="36.20" height="4.30" fill="#005353"/>
<rect x="964.50" y="397.10" width="36.20" height="11.50" fill="#002828"/>
<rect x="964.50" y="407.40" width="36.20" height="5.42" fill="#005353"/>
<rect x="964.50" y="411.62" width="36.20" height="4.67" fill="#007c7c"/>
<rect x="964.50" y="415.09" width="36.20" height="4.92" fill="#002828"/>
<rect x="964.50" y="418.81" width="36.20" height="8.40" fill="#004040"/>
<rect x="964.50" y="426.01" width="36.20" height="5.17" fill="#000c0c"/>
<rect x="964.50" y="429.98" width="36.20" height="4.30" fill="#005353"/>
<rect x="964.50" y="433.08" width="36.20" height="9.02" fill="#004040"/>
<rect x="964.50" y="440.90" width="36.20" height="4.92" fill="#000c0c"/>
<rect x="964.50" y="444.62" width="36.20" height="4.18" fill="#004040"/>
<rect x="964.50" y="447.60" width="36.20" height="4.92" fill="#006666"/>
<rect x="964.50" y="451.32" width="36.20" height="9.02" fill="#002828"/>
<rect x="964.50" y="459.14" width="36.20" height="4.05" fill="#004040"/>
<rect x="964.50" y="461.99" width="36.20" height="5.17" fill="#00a9a9"/>
<rect x="964.50" y="465.96" width="36.20" height="5.17" fill="#004040"/>
<rect x="964.50" y="469.93" width="36.20" height="8.40" fill="#005353"/>
<rect x="964.50" y="477.13" width="36.20" height="4.67" fill="#009292"/>
<rect x="964.50" y="480.60" width="36.20" height="4.55" fill="#005353"/>
<rect x="999.90" y="394.00" width="37.90" height="4.30" fill="#006666"/>
<rect x="999.90" y="397.10" width="37.90" height="8.02" fill="#004040"/>
<rect x="999.90" y="403.93" width="37.90" height="8.89" fill="#005353"/>
<rect x="999.90" y="411.62" width="37.90" height="4.67" fill="#007c7c"/>
<rect x="999.90" y="415.09" width="37.90" height="4.92" fill="#002828"/>
<rect x="999.90" y="418.81" width="37.90" height="8.40" fill="#005353"/>
<rect x="999.90" y="426.01" width="37.90" height="5.17" fill="#006666"/>
<rect x="999.90" y="429.98" width="37.90" height="4.30" fill="#005353"/>
<rect x="999.90" y="433.08" width="37.90" height="9.02" fill="#006666"/>
<rect x="999.90" y="440.90" width="37.90" height="7.90" fill="#004040"/>
<rect x="999.90" y="447.60" width="37.90" height="4.92" fill="#007c7c"/>
<rect x="999.90" y="451.32" width="37.90" height="5.29" fill="#000c0c"/>
<rect x="999.90" y="455.41" width="37.90" height="7.78" fill="#004040"/>
<rect x="999.90" y="461.99" width="37.90" height="5.17" fill="#00a9a9"/>
<rect x="999.90" y="465.96" width="37.90" height="5.17" fill="#004040"/>
<rect x="999.90" y="469.93" width="37.90" height="8.40" fill="#005353"/>
<rect x="999.90" y="477.13" width="37.90" height="4.67" fill="#007c7c"/>
<rect x="999.90" y="480.60" width="37.90" height="4.55" fill="#006666"/>
<rect x="745.00" y="482.00" width="36.80" height="4.30" fill="#007c7c"/>
<rect x="745.00" y="485.10" width="36.80" height="7.78" fill="#004040"/>
<rect x="745.00" y="491.68" width="36.80" height="4.92" fill="#007c7c"/>
<rect x="745.00" y="495.40" width="36.80" height="8.64" fill="#005353"/>
<rect x="745.00" y="502.84" width="36.80" height="4.92" fill="#00a9a9"/>
<rect x="745.00" y="506.57" width="36.80" height="8.64" fill="#004040"/>
<rect x="745.00" y="514.01" width="36.80" height="4.55" fill="#00a9a9"/>
<rect x="745.00" y="517.36" width="36.80" height="4.55" fill="#000c0c"/>
<rect x="745.00" y="520.71" width="36.80" height="4.92" fill="#009292"/>
<rect x="745.00" y="524.43" width="36.80" height="5.29" fill="#00cccc"/>
<rect x="745.00" y="528.53" width="36.80" height="11.99" fill="#004040"/>
<rect x="745.00" y="539.32" width="36.80" height="4.92" fill="#005353"/>
<rect x="745.00" y="543.04" width="36.80" height="4.67" fill="#004040"/>
<rect x="745.00" y="546.52" width="36.80" height="4.67" fill="#000c0c"/>
<rect x="745.00" y="549.99" width="36.80" height="4.92" fill="#006666"/>
<rect x="745.00" y="553.71" width="36.80" height="8.64" fill="#005353"/>
<rect x="745.00" y="561.16" width="36.80" height="4.55" fill="#000c0c"/>
<rect x="745.00" y="564.51" width="36.80" height="8.64" fill="#006666"/>
<rect x="781.00" y="482.00" width="35.70" height="4.30" fill="#006666"/>
<rect x="781.00" y="485.10" width="35.70" height="4.30" fill="#005353"/>
<rect x="781.00" y="488.20" width="35.70" height="4.67" fill="#002828"/>
<rect x="781.00" y="491.68" width="35.70" height="12.37" fill="#007c7c"/>
<rect x="781.00" y="502.84" width="35.70" height="8.64" fill="#005353"/>
<rect x="781.00" y="510.29" width="35.70" height="4.92" fill="#006666"/>
<rect x="781.00" y="514.01" width="35.70" height="4.55" fill="#00a9a9"/>
<rect x="781.00" y="517.36" width="35.70" height="4.55" fill="#005353"/>
<rect x="781.00" y="520.71" width="35.70" height="9.02" fill="#007c7c"/>
<rect x="781.00" y="528.53" width="35.70" height="4.55" fill="#002828"/>
<rect x="781.00" y="531.88" width="35.70" height="4.67" fill="#005353"/>
<rect x="781.00" y="535.35" width="35.70" height="4.92" fill="#002828"/>
<rect x="781.00" y="539.07" width="35.70" height="5.17" fill="#005353"/>
<rect x="781.00" y="543.04" width="35.70" height="8.15" fill="#006666"/>
<rect x="781.00" y="549.99" width="35.70" height="4.92" fill="#6e6e6e"/>
<rect x="781.00" y="553.71" width="35.70" height="5.17" fill="#002828"/>
<rect x="781.00" y="557.68" width="35.70" height="4.67" fill="#005353"/>
<rect x="781.00" y="561.16" width="35.70" height="4.55" fill="#002828"/>
<rect x="781.00" y="564.51" width="35.70" height="4.55" fill="#005353"/>
<rect x="781.00" y="567.86" width="35.70" height="5.29" fill="#00fcfc"/>
<rect x="815.90" y="482.00" width="36.00" height="4.30" fill="#006666"/>
<rect x="815.90" y="485.10" width="36.00" height="4.30" fill="#007c7c"/>
<rect x="815.90" y="488.20" width="36.00" height="4.67" fill="#005353"/>
<rect x="815.90" y="491.68" width="36.00" height="4.92" fill="#00a9a9"/>
<rect x="815.90" y="495.40" width="36.00" height="4.92" fill="#007c7c"/>
<rect x="815.90" y="499.12" width="36.00" height="8.64" fill="#005353"/>
<rect x="815.90" y="506.57" width="36.00" height="8.64" fill="#007c7c"/>
<rect x="815.90" y="514.01" width="36.00" height="4.55" fill="#00cccc"/>
<rect x="815.90" y="517.36" width="36.00" height="8.27" fill="#006666"/>
<rect x="815.90" y="524.43" width="36.00" height="5.29" fill="#007c7c"/>
<rect x="815.90" y="528.53" width="36.00" height="22.66" fill="#005353"/>
<rect x="815.90" y="549.99" width="36.00" height="4.92" fill="#6e6e6e"/>
<rect x="815.90" y="553.71" width="36.00" height="5.17" fill="#006666"/>
<rect x="815.90" y="557.68" width="36.00" height="4.67" fill="#004040"/>
<rect x="815.90" y="561.16" width="36.00" height="4.55" fill="#002828"/>
<rect x="815.90" y="564.51" width="36.00" height="4.55" fill="#005353"/>
<rect x="815.90" y="567.86" width="36.00" height="5.29" fill="#00fcfc"/>
<rect x="851.10" y="482.00" width="38.00" height="4.30" fill="#009292"/>
<rect x="851.10" y="485.10" width="38.00" height="11.50" fill="#005353"/>
<rect x="851.10" y="495.40" width="38.00" height="8.64" fill="#002828"/>
<rect x="851.10" y="502.84" width="38.00" height="4.92" fill="#00a9a9"/>
<rect x="851.10" y="506.57" width="38.00" height="4.92" fill="#005353"/>
<rect x="851.10" y="510.29" width="38.00" height="4.92" fill="#007c7c"/>
<rect x="851.10" y="514.01" width="38.00" height="4.55" fill="#00a9a9"/>
<rect x="851.10" y="517.36" width="38.00" height="4.55" fill="#005353"/>
<rect x="851.10" y="520.71" width="38.00" height="9.02" fill="#009292"/>
<rect x="851.10" y="528.53" width="38.00" height="8.02" fill="#005353"/>
<rect x="851.10" y="535.35" width="38.00" height="8.89" fill="#002828"/>
<rect x="851.10" y="543.04" width="38.00" height="19.31" fill="#005353"/>
<rect x="851.10" y="561.16" width="38.00" height="4.55" fill="#000c0c"/>
<rect x="851.10" y="564.51" width="38.00" height="4.55" fill="#006666"/>
<rect x="851.10" y="567.86" width="38.00" height="5.29" fill="#141200"/>
<rect x="893.80" y="482.00" width="36.40" height="7.40" fill="#005353"/>
<rect x="893.80" y="488.20" width="36.40" height="4.67" fill="#002828"/>
<rect x="893.80" y="491.68" width="36.40" height="4.92" fill="#000c0c"/>
<rect x="893.80" y="495.40" width="36.40" height="8.64" fill="#004040"/>
<rect x="893.80" y="502.84" width="36.40" height="4.92" fill="#141200"/>
<rect x="893.80" y="506.57" width="36.40" height="8.64" fill="#002828"/>
<rect x="893.80" y="514.01" width="36.40" height="4.55" fill="#007c7c"/>
<rect x="893.80" y="517.36" width="36.40" height="8.27" fill="#002828"/>
<rect x="893.80" y="524.43" width="36.40" height="5.29" fill="#141200"/>
<rect x="893.80" y="528.53" width="36.40" height="8.02" fill="#002828"/>
<rect x="893.80" y="535.35" width="36.40" height="4.92" fill="#009292"/>
<rect x="893.80" y="539.07" width="36.40" height="8.64" fill="#005353"/>
<rect x="893.80" y="546.52" width="36.40" height="4.67" fill="#000c0c"/>
<rect x="893.80" y="549.99" width="36.40" height="4.92" fill="#005353"/>
<rect x="893.80" y="553.71" width="36.40" height="5.17" fill="#000c0c"/>
<rect x="893.80" y="557.68" width="36.40" height="8.02" fill="#006666"/>
<rect x="893.80" y="564.51" width="36.40" height="4.55" fill="#002828"/>
<rect x="893.80" y="567.86" width="36.40" height="5.29" fill="#007c7c"/>
<rect x="929.40" y="482.00" width="35.90" height="4.30" fill="#004040"/>
<rect x="929.40" y="485.10" width="35.90" height="4.30" fill="#006666"/>
<rect x="929.40" y="488.20" width="35.90" height="4.67" fill="#004040"/>
<rect x="929.40" y="491.68" width="35.90" height="4.92" fill="#000c0c"/>
<rect x="929.40" y="495.40" width="35.90" height="8.64" fill="#006666"/>
<rect x="929.40" y="502.84" width="35.90" height="4.92" fill="#000c0c"/>
<rect x="929.40" y="506.57" width="35.90" height="4.92" fill="#004040"/>
<rect x="929.40" y="510.29" width="35.90" height="4.92" fill="#006666"/>
<rect x="929.40" y="514.01" width="35.90" height="4.55" fill="#00a9a9"/>
<rect x="929.40" y="517.36" width="35.90" height="4.55" fill="#004040"/>
<rect x="929.40" y="520.71" width="35.90" height="4.92" fill="#005353"/>
<rect x="929.40" y="524.43" width="35.90" height="8.64" fill="#004040"/>
<rect x="929.40" y="531.88" width="35.90" height="4.67" fill="#005353"/>
<rect x="929.40" y="535.35" width="35.90" height="4.92" fill="#00cccc"/>
<rect x="929.40" y="539.07" width="35.90" height="8.64" fill="#006666"/>
<rect x="929.40" y="546.52" width="35.90" height="4.67" fill="#002828"/>
<rect x="929.40" y="549.99" width="35.90" height="4.92" fill="#006666"/>
<rect x="929.40" y="553.71" width="35.90" height="5.17" fill="#002828"/>
<rect x="929.40" y="557.68" width="35.90" height="4.67" fill="#000c0c"/>
<rect x="929.40" y="561.16" width="35.90" height="4.55" fill="#004040"/>
<rect x="929.40" y="564.51" width="35.90" height="8.64" fill="#006666"/>
<rect x="964.50" y="482.00" width="36.20" height="7.40" fill="#005353"/>
<rect x="964.50" y="488.20" width="36.20" height="4.67" fill="#004040"/>
<rect x="964.50" y="491.68" width="36.20" height="4.92" fill="#009292"/>
<rect x="964.50" y="495.40" width="36.20" height="4.92" fill="#004040"/>
<rect x="964.50" y="499.12" width="36.20" height="4.92" fill="#000c0c"/>
<rect x="964.50" y="502.84" width="36.20" height="4.92" fill="#009292"/>
<rect x="964.50" y="506.57" width="36.20" height="8.64" fill="#004040"/>
<rect x="964.50" y="514.01" width="36.20" height="4.55" fill="#009292"/>
<rect x="964.50" y="517.36" width="36.20" height="8.27" fill="#004040"/>
<rect x="964.50" y="524.43" width="36.20" height="5.29" fill="#009292"/>
<rect x="964.50" y="528.53" width="36.20" height="4.55" fill="#004040"/>
<rect x="964.50" y="531.88" width="36.20" height="27.01" fill="#002828"/>
<rect x="964.50" y="557.68" width="36.20" height="4.67" fill="#004040"/>
<rect x="964.50" y="561.16" width="36.20" height="4.55" fill="#000c0c"/>
<rect x="964.50" y="564.51" width="36.20" height="4.55" fill="#005353"/>
<rect x="964.50" y="567.86" width="36.20" height="5.29" fill="#00a9a9"/>
<rect x="999.90" y="482.00" width="37.90" height="4.30" fill="#006666"/>
<rect x="999.90" y="485.10" width="37.90" height="4.30" fill="#004040"/>
<rect x="999.90" y="488.20" width="37.90" height="8.40" fill="#006666"/>
<rect x="999.90" y="495.40" width="37.90" height="4.92" fill="#002828"/>
<rect x="999.90" y="499.12" width="37.90" height="4.92" fill="#141200"/>
<rect x="999.90" y="502.84" width="37.90" height="4.92" fill="#00cccc"/>
<rect x="999.90" y="506.57" width="37.90" height="4.92" fill="#004040"/>
<rect x="999.90" y="510.29" width="37.90" height="4.92" fill="#005353"/>
<rect x="999.90" y="514.01" width="37.90" height="4.55" fill="#009292"/>
<rect x="999.90" y="517.36" width="37.90" height="4.55" fill="#002828"/>
<rect x="999.90" y="520.71" width="37.90" height="4.92" fill="#005353"/>
<rect x="999.90" y="524.43" width="37.90" height="5.29" fill="#00cccc"/>
<rect x="999.90" y="528.53" width="37.90" height="8.02" fill="#005353"/>
<rect x="999.90" y="535.35" width="37.90" height="4.92" fill="#002828"/>
<rect x="999.90" y="539.07" width="37.90" height="5.17" fill="#000c0c"/>
<rect x="999.90" y="543.04" width="37.90" height="4.67" fill="#004040"/>
<rect x="999.90" y="546.52" width="37.90" height="4.67" fill="#005353"/>
<rect x="999.90" y="549.99" width="37.90" height="4.92" fill="#004040"/>
<rect x="999.90" y="553.71" width="37.90" height="5.17" fill="#005353"/>
<rect x="999.90" y="557.68" width="37.90" height="4.67" fill="#004040"/>
<rect x="999.90" y="561.16" width="37.90" height="4.55" fill="#000c0c"/>
<rect x="999.90" y="564.51" width="37.90" height="4.55" fill="#004040"/>
<rect x="999.90" y="567.86" width="37.90" height="5.29" fill="#009292"/>
<rect x="745.00" y="570.00" width="36.80" height="3.68" fill="#005353"/>
<rect x="745.00" y="572.48" width="36.80" height="7.65" fill="#006666"/>
<rect x="745.00" y="578.93" width="36.80" height="9.39" fill="#000c0c"/>
<rect x="745.00" y="587.12" width="36.80" height="4.55" fill="#005353"/>
<rect x="745.00" y="590.47" width="36.80" height="4.55" fill="#000c0c"/>
<rect x="745.00" y="593.82" width="36.80" height="4.67" fill="#004040"/>
<rect x="745.00" y="597.30" width="36.80" height="5.17" fill="#141200"/>
<rect x="745.00" y="601.27" width="36.80" height="4.92" fill="#004040"/>
<rect x="745.00" y="604.99" width="36.80" height="4.67" fill="#009292"/>
<rect x="745.00" y="608.46" width="36.80" height="12.12" fill="#002828"/>
<rect x="745.00" y="619.38" width="36.80" height="4.92" fill="#005353"/>
<rect x="745.00" y="623.10" width="36.80" height="4.55" fill="#004040"/>
<rect x="745.00" y="626.45" width="36.80" height="8.64" fill="#000c0c"/>
<rect x="745.00" y="633.90" width="36.80" height="5.29" fill="#00cccc"/>
<rect x="745.00" y="637.99" width="36.80" height="4.18" fill="#002828"/>
<rect x="745.00" y="640.97" width="36.80" height="12.37" fill="#007c7c"/>
<rect x="745.00" y="652.13" width="36.80" height="4.67" fill="#004040"/>
<rect x="745.00" y="655.61" width="36.80" height="5.54" fill="#00cccc"/>
<rect x="781.00" y="570.00" width="35.70" height="3.68" fill="#00fcfc"/>
<rect x="781.00" y="572.48" width="35.70" height="7.65" fill="#005353"/>
<rect x="781.00" y="578.93" width="35.70" height="4.92" fill="#007c7c"/>
<rect x="781.00" y="582.66" width="35.70" height="5.67" fill="#006666"/>
<rect x="781.00" y="587.12" width="35.70" height="4.55" fill="#005353"/>
<rect x="781.00" y="590.47" width="35.70" height="15.72" fill="#007c7c"/>
<rect x="781.00" y="604.99" width="35.70" height="8.15" fill="#005353"/>
<rect x="781.00" y="611.94" width="35.70" height="4.92" fill="#004040"/>
<rect x="781.00" y="615.66" width="35.70" height="4.92" fill="#005353"/>
<rect x="781.00" y="619.38" width="35.70" height="8.27" fill="#006666"/>
<rect x="781.00" y="626.45" width="35.70" height="5.29" fill="#000c0c"/>
<rect x="781.00" y="630.55" width="35.70" height="8.64" fill="#007c7c"/>
<rect x="781.00" y="637.99" width="35.70" height="7.90" fill="#005353"/>
<rect x="781.00" y="644.69" width="35.70" height="8.64" fill="#007c7c"/>
<rect x="781.00" y="652.13" width="35.70" height="4.67" fill="#002828"/>
<rect x="781.00" y="655.61" width="35.70" height="5.54" fill="#009292"/>
<rect x="815.90" y="570.00" width="36.00" height="3.68" fill="#00fcfc"/>
<rect x="815.90" y="572.48" width="36.00" height="4.67" fill="#005353"/>
<rect x="815.90" y="575.96" width="36.00" height="7.90" fill="#007c7c"/>
<rect x="815.90" y="582.66" width="36.00" height="5.67" fill="#006666"/>
<rect x="815.90" y="587.12" width="36.00" height="4.55" fill="#005353"/>
<rect x="815.90" y="590.47" width="36.00" height="15.72" fill="#006666"/>
<rect x="815.90" y="604.99" width="36.00" height="4.67" fill="#004040"/>
<rect x="815.90" y="608.46" width="36.00" height="4.67" fill="#007c7c"/>
<rect x="815.90" y="611.94" width="36.00" height="4.92" fill="#005353"/>
<rect x="815.90" y="615.66" width="36.00" height="11.99" fill="#006666"/>
<rect x="815.90" y="626.45" width="36.00" height="5.29" fill="#002828"/>
<rect x="815.90" y="630.55" width="36.00" height="4.92" fill="#005353"/>
<rect x="815.90" y="634.27" width="36.00" height="4.92" fill="#007c7c"/>
<rect x="815.90" y="637.99" width="36.00" height="7.90" fill="#006666"/>
<rect x="815.90" y="644.69" width="36.00" height="5.67" fill="#009292"/>
<rect x="815.90" y="649.16" width="36.00" height="7.65" fill="#005353"/>
<rect x="815.90" y="655.61" width="36.00" height="5.54" fill="#009292"/>
<rect x="851.10" y="570.00" width="38.00" height="3.68" fill="#141200"/>
<rect x="851.10" y="572.48" width="38.00" height="7.65" fill="#005353"/>
<rect x="851.10" y="578.93" width="38.00" height="12.74" fill="#006666"/>
<rect x="851.10" y="590.47" width="38.00" height="4.55" fill="#006666"/>
<rect x="851.10" y="593.82" width="38.00" height="4.67" fill="#007c7c"/>
<rect x="851.10" y="597.30" width="38.00" height="15.84" fill="#005353"/>
<rect x="851.10" y="611.94" width="38.00" height="4.92" fill="#002828"/>
<rect x="851.10" y="615.66" width="38.00" height="4.92" fill="#005353"/>
<rect x="851.10" y="619.38" width="38.00" height="4.92" fill="#007c7c"/>
<rect x="851.10" y="623.10" width="38.00" height="4.55" fill="#006666"/>
<rect x="851.10" y="626.45" width="38.00" height="5.29" fill="#002828"/>
<rect x="851.10" y="630.55" width="38.00" height="4.92" fill="#007c7c"/>
<rect x="851.10" y="634.27" width="38.00" height="4.92" fill="#00a9a9"/>
<rect x="851.10" y="637.99" width="38.00" height="12.37" fill="#007c7c"/>
<rect x="851.10" y="649.16" width="38.00" height="7.65" fill="#006666"/>
<rect x="851.10" y="655.61" width="38.00" height="5.54" fill="#009292"/>
<rect x="893.80" y="570.00" width="36.40" height="3.68" fill="#007c7c"/>
<rect x="893.80" y="572.48" width="36.40" height="7.65" fill="#002828"/>
<rect x="893.80" y="578.93" width="36.40" height="4.92" fill="#004040"/>
<rect x="893.80" y="582.66" width="36.40" height="5.67" fill="#005353"/>
<rect x="893.80" y="587.12" width="36.40" height="7.90" fill="#002828"/>
<rect x="893.80" y="593.82" width="36.40" height="4.67" fill="#2c2800"/>
<rect x="893.80" y="597.30" width="36.40" height="5.17" fill="#000c0c"/>
<rect x="893.80" y="601.27" width="36.40" height="4.92" fill="#004040"/>
<rect x="893.80" y="604.99" width="36.40" height="4.67" fill="#002828"/>
<rect x="893.80" y="608.46" width="36.40" height="8.40" fill="#005353"/>
<rect x="893.80" y="615.66" width="36.40" height="4.92" fill="#002828"/>
<rect x="893.80" y="619.38" width="36.40" height="8.27" fill="#000c0c"/>
<rect x="893.80" y="626.45" width="36.40" height="8.64" fill="#004040"/>
<rect x="893.80" y="633.90" width="36.40" height="8.02" fill="#000c0c"/>
<rect x="893.80" y="640.72" width="36.40" height="5.91" fill="#7c7600"/>
<rect x="893.80" y="645.43" width="36.40" height="7.90" fill="#00a9a9"/>
<rect x="893.80" y="652.13" width="36.40" height="4.67" fill="#004040"/>
<rect x="893.80" y="655.61" width="36.40" height="5.54" fill="#005353"/>
<rect x="929.40" y="570.00" width="35.90" height="3.68" fill="#007c7c"/>
<rect x="929.40" y="572.48" width="35.90" height="11.37" fill="#004040"/>
<rect x="929.40" y="582.66" width="35.90" height="5.67" fill="#002828"/>
<rect x="929.40" y="587.12" width="35.90" height="4.18" fill="#004040"/>
<rect x="929.40" y="590.10" width="35.90" height="4.92" fill="#009292"/>
<rect x="929.40" y="593.82" width="35.90" height="12.37" fill="#004040"/>
<rect x="929.40" y="604.99" width="35.90" height="4.67" fill="#141200"/>
<rect x="929.40" y="608.46" width="35.90" height="8.40" fill="#004040"/>
<rect x="929.40" y="615.66" width="35.90" height="11.99" fill="#005353"/>
<rect x="929.40" y="626.45" width="35.90" height="8.64" fill="#002828"/>
<rect x="929.40" y="633.90" width="35.90" height="5.29" fill="#005353"/>
<rect x="929.40" y="637.99" width="35.90" height="3.93" fill="#002828"/>
<rect x="929.40" y="640.72" width="35.90" height="5.91" fill="#a8a400"/>
<rect x="929.40" y="645.43" width="35.90" height="7.90" fill="#00a9a9"/>
<rect x="929.40" y="652.13" width="35.90" height="4.67" fill="#004040"/>
<rect x="929.40" y="655.61" width="35.90" height="5.54" fill="#00a9a9"/>
<rect x="964.50" y="570.00" width="36.20" height="3.68" fill="#00cccc"/>
<rect x="964.50" y="572.48" width="36.20" height="26.01" fill="#004040"/>
<rect x="964.50" y="597.30" width="36.20" height="8.89" fill="#002828"/>
<rect x="964.50" y="604.99" width="36.20" height="4.67" fill="#005353"/>
<rect x="964.50" y="608.46" width="36.20" height="4.67" fill="#000c0c"/>
<rect x="964.50" y="611.94" width="36.20" height="12.86" fill="#002828"/>
<rect x="964.50" y="623.60" width="36.20" height="4.05" fill="#000c0c"/>
<rect x="964.50" y="626.45" width="36.20" height="5.29" fill="#005353"/>
<rect x="964.50" y="630.55" width="36.20" height="4.92" fill="#006666"/>
<rect x="964.50" y="634.27" width="36.20" height="7.65" fill="#004040"/>
<rect x="964.50" y="640.72" width="36.20" height="5.91" fill="#00cccc"/>
<rect x="964.50" y="645.43" width="36.20" height="4.55" fill="#00fcfc"/>
<rect x="964.50" y="648.78" width="36.20" height="4.55" fill="#000c0c"/>
<rect x="964.50" y="652.13" width="36.20" height="4.67" fill="#004040"/>
<rect x="964.50" y="655.61" width="36.20" height="5.54" fill="#002828"/>
<rect x="999.90" y="570.00" width="37.90" height="3.68" fill="#009292"/>
<rect x="999.90" y="572.48" width="37.90" height="4.67" fill="#002828"/>
<rect x="999.90" y="575.96" width="37.90" height="4.18" fill="#005353"/>
<rect x="999.90" y="578.93" width="37.90" height="4.92" fill="#004040"/>
<rect x="999.90" y="582.66" width="37.90" height="5.67" fill="#006666"/>
<rect x="999.90" y="587.12" width="37.90" height="4.18" fill="#005353"/>
<rect x="999.90" y="590.10" width="37.90" height="4.92" fill="#006666"/>
<rect x="999.90" y="593.82" width="37.90" height="4.67" fill="#007c7c"/>
<rect x="999.90" y="597.30" width="37.90" height="8.89" fill="#004040"/>
<rect x="999.90" y="604.99" width="37.90" height="15.59" fill="#005353"/>
<rect x="999.90" y="619.38" width="37.90" height="4.92" fill="#002828"/>
<rect x="999.90" y="623.10" width="37.90" height="4.55" fill="#004040"/>
<rect x="999.90" y="626.45" width="37.90" height="15.47" fill="#005353"/>
<rect x="999.90" y="640.72" width="37.90" height="9.26" fill="#00fcfc"/>
<rect x="999.90" y="648.78" width="37.90" height="4.55" fill="#141200"/>
<rect x="999.90" y="652.13" width="37.90" height="4.67" fill="#005353"/>
<rect x="999.90" y="655.61" width="37.90" height="5.54" fill="#000c0c"/>
<rect x="745.00" y="658.00" width="36.80" height="3.43" fill="#00cccc"/>
<rect x="745.00" y="660.23" width="36.80" height="4.55" fill="#009292"/>
<rect x="745.00" y="663.58" width="36.80" height="4.55" fill="#006666"/>
<rect x="745.00" y="666.93" width="36.80" height="4.43" fill="#005353"/>
<rect x="745.00" y="670.16" width="36.80" height="8.89" fill="#002828"/>
<rect x="745.00" y="677.85" width="36.80" height="4.67" fill="#000c0c"/>
<rect x="745.00" y="681.33" width="36.80" height="4.92" fill="#007c7c"/>
<rect x="745.00" y="685.05" width="36.80" height="8.64" fill="#005353"/>
<rect x="745.00" y="692.49" width="36.80" height="4.92" fill="#009292"/>
<rect x="745.00" y="696.21" width="36.80" height="4.92" fill="#002828"/>
<rect x="745.00" y="699.94" width="36.80" height="4.92" fill="#005353"/>
<rect x="745.00" y="703.66" width="36.80" height="4.55" fill="#002828"/>
<rect x="745.00" y="707.01" width="36.80" height="8.27" fill="#005353"/>
<rect x="745.00" y="714.08" width="36.80" height="5.29" fill="#000c0c"/>
<rect x="745.00" y="718.17" width="36.80" height="4.92" fill="#007c7c"/>
<rect x="745.00" y="721.90" width="36.80" height="8.02" fill="#006666"/>
<rect x="745.00" y="728.72" width="36.80" height="5.17" fill="#009292"/>
<rect x="745.00" y="732.69" width="36.80" height="8.64" fill="#006666"/>
<rect x="745.00" y="740.13" width="36.80" height="4.92" fill="#004040"/>
<rect x="745.00" y="743.86" width="36.80" height="5.29" fill="#002828"/>
<rect x="781.00" y="658.00" width="35.70" height="3.43" fill="#009292"/>
<rect x="781.00" y="660.23" width="35.70" height="4.55" fill="#007c7c"/>
<rect x="781.00" y="663.58" width="35.70" height="7.78" fill="#004040"/>
<rect x="781.00" y="670.16" width="35.70" height="5.17" fill="#000c0c"/>
<rect x="781.00" y="674.13" width="35.70" height="4.92" fill="#005353"/>
<rect x="781.00" y="677.85" width="35.70" height="4.67" fill="#000c0c"/>
<rect x="781.00" y="681.33" width="35.70" height="8.64" fill="#007c7c"/>
<rect x="781.00" y="688.77" width="35.70" height="8.64" fill="#004040"/>
<rect x="781.00" y="696.21" width="35.70" height="4.92" fill="#009292"/>
<rect x="781.00" y="699.94" width="35.70" height="15.34" fill="#005353"/>
<rect x="781.00" y="714.08" width="35.70" height="5.29" fill="#000c0c"/>
<rect x="781.00" y="718.17" width="35.70" height="4.92" fill="#007c7c"/>
<rect x="781.00" y="721.90" width="35.70" height="4.55" fill="#005353"/>
<rect x="781.00" y="725.25" width="35.70" height="4.67" fill="#002828"/>
<rect x="781.00" y="728.72" width="35.70" height="5.91" fill="#00fcfc"/>
<rect x="781.00" y="733.43" width="35.70" height="7.90" fill="#007c7c"/>
<rect x="781.00" y="740.13" width="35.70" height="4.92" fill="#002828"/>
<rect x="781.00" y="743.86" width="35.70" height="3.68" fill="#000c0c"/>
<rect x="781.00" y="746.34" width="35.70" height="2.81" fill="#6e6e6e"/>
<rect x="815.90" y="658.00" width="36.00" height="3.43" fill="#009292"/>
<rect x="815.90" y="660.23" width="36.00" height="4.55" fill="#005353"/>
<rect x="815.90" y="663.58" width="36.00" height="7.78" fill="#007c7c"/>
<rect x="815.90" y="670.16" width="36.00" height="5.17" fill="#002828"/>
<rect x="815.90" y="674.13" width="36.00" height="4.92" fill="#005353"/>
<rect x="815.90" y="677.85" width="36.00" height="4.67" fill="#000c0c"/>
<rect x="815.90" y="681.33" width="36.00" height="4.92" fill="#007c7c"/>
<rect x="815.90" y="685.05" width="36.00" height="12.37" fill="#005353"/>
<rect x="815.90" y="696.21" width="36.00" height="4.92" fill="#6e6e6e"/>
<rect x="815.90" y="699.94" width="36.00" height="4.92" fill="#005353"/>
<rect x="815.90" y="703.66" width="36.00" height="4.55" fill="#007c7c"/>
<rect x="815.90" y="707.01" width="36.00" height="4.55" fill="#006666"/>
<rect x="815.90" y="710.36" width="36.00" height="4.92" fill="#007c7c"/>
<rect x="815.90" y="714.08" width="36.00" height="5.29" fill="#002828"/>
<rect x="815.90" y="718.17" width="36.00" height="4.92" fill="#004040"/>
<rect x="815.90" y="721.90" width="36.00" height="8.02" fill="#006666"/>
<rect x="815.90" y="728.72" width="36.00" height="5.91" fill="#00fcfc"/>
<rect x="815.90" y="733.43" width="36.00" height="4.55" fill="#006666"/>
<rect x="815.90" y="736.78" width="36.00" height="4.55" fill="#005353"/>
<rect x="815.90" y="740.13" width="36.00" height="4.92" fill="#00a9a9"/>
<rect x="815.90" y="743.86" width="36.00" height="3.68" fill="#000c0c"/>
<rect x="815.90" y="746.34" width="36.00" height="2.81" fill="#6e6e6e"/>
<rect x="851.10" y="658.00" width="38.00" height="3.43" fill="#009292"/>
<rect x="851.10" y="660.23" width="38.00" height="4.55" fill="#005353"/>
<rect x="851.10" y="663.58" width="38.00" height="7.78" fill="#007c7c"/>
<rect x="851.10" y="670.16" width="38.00" height="8.89" fill="#005353"/>
<rect x="851.10" y="677.85" width="38.00" height="4.67" fill="#141200"/>
<rect x="851.10" y="681.33" width="38.00" height="4.92" fill="#007c7c"/>
<rect x="851.10" y="685.05" width="38.00" height="8.64" fill="#005353"/>
<rect x="851.10" y="692.49" width="38.00" height="4.92" fill="#00a9a9"/>
<rect x="851.10" y="696.21" width="38.00" height="11.99" fill="#005353"/>
<rect x="851.10" y="707.01" width="38.00" height="4.55" fill="#002828"/>
<rect x="851.10" y="710.36" width="38.00" height="4.92" fill="#009292"/>
<rect x="851.10" y="714.08" width="38.00" height="5.29" fill="#004040"/>
<rect x="851.10" y="718.17" width="38.00" height="4.92" fill="#007c7c"/>
<rect x="851.10" y="721.90" width="38.00" height="4.55" fill="#002828"/>
<rect x="851.10" y="725.25" width="38.00" height="8.64" fill="#007c7c"/>
<rect x="851.10" y="732.69" width="38.00" height="5.29" fill="#002828"/>
<rect x="851.10" y="736.78" width="38.00" height="4.55" fill="#005353"/>
<rect x="851.10" y="740.13" width="38.00" height="4.92" fill="#009292"/>
<rect x="851.10" y="743.86" width="38.00" height="5.29" fill="#004040"/>
<rect x="893.80" y="658.00" width="36.40" height="3.43" fill="#006666"/>
<rect x="893.80" y="660.23" width="36.40" height="7.90" fill="#002828"/>
<rect x="893.80" y="666.93" width="36.40" height="19.31" fill="#000c0c"/>
<rect x="893.80" y="685.05" width="36.40" height="4.92" fill="#141200"/>
<rect x="893.80" y="688.77" width="36.40" height="4.92" fill="#002828"/>
<rect x="893.80" y="692.49" width="36.40" height="8.27" fill="#005353"/>
<rect x="893.80" y="699.56" width="36.40" height="5.29" fill="#141200"/>
<rect x="893.80" y="703.66" width="36.40" height="4.55" fill="#006666"/>
<rect x="893.80" y="707.01" width="36.40" height="4.55" fill="#141200"/>
<rect x="893.80" y="710.36" width="36.40" height="4.92" fill="#2c2800"/>
<rect x="893.80" y="714.08" width="36.40" height="5.29" fill="#000c0c"/>
<rect x="893.80" y="718.17" width="36.40" height="4.92" fill="#006666"/>
<rect x="893.80" y="721.90" width="36.40" height="4.55" fill="#004040"/>
<rect x="893.80" y="725.25" width="36.40" height="4.67" fill="#005353"/>
<rect x="893.80" y="728.72" width="36.40" height="5.17" fill="#004040"/>
<rect x="893.80" y="732.69" width="36.40" height="8.64" fill="#005353"/>
<rect x="893.80" y="740.13" width="36.40" height="4.92" fill="#000c0c"/>
<rect x="893.80" y="743.86" width="36.40" height="5.29" fill="#002828"/>
<rect x="929.40" y="658.00" width="35.90" height="3.43" fill="#00cccc"/>
<rect x="929.40" y="660.23" width="35.90" height="4.55" fill="#002828"/>
<rect x="929.40" y="663.58" width="35.90" height="4.55" fill="#000c0c"/>
<rect x="929.40" y="666.93" width="35.90" height="8.40" fill="#004040"/>
<rect x="929.40" y="674.13" width="35.90" height="4.92" fill="#002828"/>
<rect x="929.40" y="677.85" width="35.90" height="4.67" fill="#000c0c"/>
<rect x="929.40" y="681.33" width="35.90" height="4.92" fill="#002828"/>
<rect x="929.40" y="685.05" width="35.90" height="4.92" fill="#2c2800"/>
<rect x="929.40" y="688.77" width="35.90" height="4.92" fill="#006666"/>
<rect x="929.40" y="692.49" width="35.90" height="4.92" fill="#004040"/>
<rect x="929.40" y="696.21" width="35.90" height="4.55" fill="#005353"/>
<rect x="929.40" y="699.56" width="35.90" height="5.29" fill="#141200"/>
<rect x="929.40" y="703.66" width="35.90" height="4.55" fill="#006666"/>
<rect x="929.40" y="707.01" width="35.90" height="4.55" fill="#141200"/>
<rect x="929.40" y="710.36" width="35.90" height="4.92" fill="#005353"/>
<rect x="929.40" y="714.08" width="35.90" height="5.29" fill="#000c0c"/>
<rect x="929.40" y="718.17" width="35.90" height="4.92" fill="#00a9a9"/>
<rect x="929.40" y="721.90" width="35.90" height="4.55" fill="#006666"/>
<rect x="929.40" y="725.25" width="35.90" height="4.67" fill="#004040"/>
<rect x="929.40" y="728.72" width="35.90" height="5.17" fill="#006666"/>
<rect x="929.40" y="732.69" width="35.90" height="5.29" fill="#000c0c"/>
<rect x="929.40" y="736.78" width="35.90" height="4.55" fill="#006666"/>
<rect x="929.40" y="740.13" width="35.90" height="9.02" fill="#000c0c"/>
<rect x="964.50" y="658.00" width="36.20" height="6.78" fill="#002828"/>
<rect x="964.50" y="663.58" width="36.20" height="4.55" fill="#005353"/>
<rect x="964.50" y="666.93" width="36.20" height="8.40" fill="#002828"/>
<rect x="964.50" y="674.13" width="36.20" height="4.92" fill="#004040"/>
<rect x="964.50" y="677.85" width="36.20" height="4.67" fill="#000c0c"/>
<rect x="964.50" y="681.33" width="36.20" height="12.37" fill="#002828"/>
<rect x="964.50" y="692.49" width="36.20" height="4.92" fill="#006666"/>
<rect x="964.50" y="696.21" width="36.20" height="4.92" fill="#000c0c"/>
<rect x="964.50" y="699.94" width="36.20" height="11.62" fill="#002828"/>
<rect x="964.50" y="710.36" width="36.20" height="4.92" fill="#009292"/>
<rect x="964.50" y="714.08" width="36.20" height="8.64" fill="#000c0c"/>
<rect x="964.50" y="721.52" width="36.20" height="4.92" fill="#141200"/>
<rect x="964.50" y="725.25" width="36.20" height="4.67" fill="#004040"/>
<rect x="964.50" y="728.72" width="36.20" height="5.17" fill="#007c7c"/>
<rect x="964.50" y="732.69" width="36.20" height="5.29" fill="#00fcfc"/>
<rect x="964.50" y="736.78" width="36.20" height="4.55" fill="#004040"/>
<rect x="964.50" y="740.13" width="36.20" height="9.02" fill="#002828"/>
<rect x="999.90" y="658.00" width="37.90" height="3.43" fill="#000c0c"/>
<rect x="999.90" y="660.23" width="37.90" height="4.55" fill="#002828"/>
<rect x="999.90" y="663.58" width="37.90" height="4.55" fill="#006666"/>
<rect x="999.90" y="666.93" width="37.90" height="8.40" fill="#004040"/>
<rect x="999.90" y="674.13" width="37.90" height="4.92" fill="#006666"/>
<rect x="999.90" y="677.85" width="37.90" height="4.67" fill="#002828"/>
<rect x="999.90" y="681.33" width="37.90" height="4.92" fill="#004040"/>
<rect x="999.90" y="685.05" width="37.90" height="4.92" fill="#000c0c"/>
<rect x="999.90" y="688.77" width="37.90" height="4.92" fill="#004040"/>
<rect x="999.90" y="692.49" width="37.90" height="4.92" fill="#006666"/>
<rect x="999.90" y="696.21" width="37.90" height="8.64" fill="#004040"/>
<rect x="999.90" y="703.66" width="37.90" height="4.55" fill="#000c0c"/>
<rect x="999.90" y="707.01" width="37.90" height="4.55" fill="#006666"/>
<rect x="999.90" y="710.36" width="37.90" height="4.92" fill="#2c2800"/>
<rect x="999.90" y="714.08" width="37.90" height="5.29" fill="#002828"/>
<rect x="999.90" y="718.17" width="37.90" height="8.27" fill="#000c0c"/>
<rect x="999.90" y="725.25" width="37.90" height="8.64" fill="#009292"/>
<rect x="999.90" y="732.69" width="37.90" height="5.29" fill="#00fcfc"/>
<rect x="999.90" y="736.78" width="37.90" height="8.27" fill="#004040"/>
<rect x="999.90" y="743.86" width="37.90" height="5.29" fill="#002828"/>
<rect x="745.00" y="746.00" width="36.80" height="3.06" fill="#002828"/>
<rect x="745.00" y="747.86" width="36.80" height="4.55" fill="#006666"/>
<rect x="745.00" y="751.21" width="36.80" height="4.67" fill="#009292"/>
<rect x="745.00" y="754.68" width="36.80" height="4.67" fill="#005353"/>
<rect x="745.00" y="758.16" width="36.80" height="4.92" fill="#000c0c"/>
<rect x="745.00" y="761.88" width="36.80" height="11.62" fill="#007c7c"/>
<rect x="745.00" y="772.30" width="36.80" height="8.64" fill="#000c0c"/>
<rect x="745.00" y="779.75" width="36.80" height="4.92" fill="#007c7c"/>
<rect x="745.00" y="783.47" width="36.80" height="4.67" fill="#002828"/>
<rect x="745.00" y="786.94" width="36.80" height="5.54" fill="#00a9a9"/>
<rect x="745.00" y="791.29" width="36.80" height="8.27" fill="#000c0c"/>
<rect x="745.00" y="798.36" width="36.80" height="4.67" fill="#2c2800"/>
<rect x="745.00" y="801.83" width="36.80" height="5.17" fill="#545000"/>
<rect x="745.00" y="805.80" width="36.80" height="19.31" fill="#007c7c"/>
<rect x="745.00" y="823.92" width="36.80" height="4.80" fill="#6e6e6e"/>
<rect x="745.00" y="827.51" width="36.80" height="5.05" fill="#7c7600"/>
<rect x="745.00" y="831.36" width="36.80" height="5.79" fill="#002828"/>
<rect x="781.00" y="746.00" width="35.70" height="3.06" fill="#000c0c"/>
<rect x="781.00" y="747.86" width="35.70" height="4.55" fill="#6e6e6e"/>
<rect x="781.00" y="751.21" width="35.70" height="4.67" fill="#007c7c"/>
<rect x="781.00" y="754.68" width="35.70" height="4.67" fill="#006666"/>
<rect x="781.00" y="758.16" width="35.70" height="4.92" fill="#141200"/>
<rect x="781.00" y="761.88" width="35.70" height="4.92" fill="#005353"/>
<rect x="781.00" y="765.60" width="35.70" height="7.90" fill="#007c7c"/>
<rect x="781.00" y="772.30" width="35.70" height="8.64" fill="#000c0c"/>
<rect x="781.00" y="779.75" width="35.70" height="4.92" fill="#007c7c"/>
<rect x="781.00" y="783.47" width="35.70" height="4.67" fill="#141200"/>
<rect x="781.00" y="786.94" width="35.70" height="5.54" fill="#007c7c"/>
<rect x="781.00" y="791.29" width="35.70" height="5.29" fill="#141200"/>
<rect x="781.00" y="795.38" width="35.70" height="7.65" fill="#002828"/>
<rect x="781.00" y="801.83" width="35.70" height="5.17" fill="#141200"/>
<rect x="781.00" y="805.80" width="35.70" height="4.92" fill="#000c0c"/>
<rect x="781.00" y="809.52" width="35.70" height="4.92" fill="#009292"/>
<rect x="781.00" y="813.25" width="35.70" height="4.67" fill="#005353"/>
<rect x="781.00" y="816.72" width="35.70" height="8.40" fill="#004040"/>
<rect x="781.00" y="823.92" width="35.70" height="4.80" fill="#00a9a9"/>
<rect x="781.00" y="827.51" width="35.70" height="8.02" fill="#000c0c"/>
<rect x="781.00" y="834.34" width="35.70" height="2.81" fill="#6e6e6e"/>
<rect x="815.90" y="746.00" width="36.00" height="3.06" fill="#000c0c"/>
<rect x="815.90" y="747.86" width="36.00" height="4.55" fill="#6e6e6e"/>
<rect x="815.90" y="751.21" width="36.00" height="4.67" fill="#007c7c"/>
<rect x="815.90" y="754.68" width="36.00" height="4.67" fill="#006666"/>
<rect x="815.90" y="758.16" width="36.00" height="4.92" fill="#000c0c"/>
<rect x="815.90" y="761.88" width="36.00" height="4.92" fill="#009292"/>
<rect x="815.90" y="765.60" width="36.00" height="7.90" fill="#006666"/>
<rect x="815.90" y="772.30" width="36.00" height="8.64" fill="#000c0c"/>
<rect x="815.90" y="779.75" width="36.00" height="4.92" fill="#006666"/>
<rect x="815.90" y="783.47" width="36.00" height="4.67" fill="#2c2800"/>
<rect x="815.90" y="786.94" width="36.00" height="5.54" fill="#009292"/>
<rect x="815.90" y="791.29" width="36.00" height="5.29" fill="#002828"/>
<rect x="815.90" y="795.38" width="36.00" height="4.18" fill="#004040"/>
<rect x="815.90" y="798.36" width="36.00" height="4.67" fill="#000c0c"/>
<rect x="815.90" y="801.83" width="36.00" height="5.17" fill="#2c2800"/>
<rect x="815.90" y="805.80" width="36.00" height="4.92" fill="#006666"/>
<rect x="815.90" y="809.52" width="36.00" height="8.40" fill="#007c7c"/>
<rect x="815.90" y="816.72" width="36.00" height="5.17" fill="#006666"/>
<rect x="815.90" y="820.69" width="36.00" height="8.02" fill="#007c7c"/>
<rect x="815.90" y="827.51" width="36.00" height="5.05" fill="#2c2800"/>
<rect x="815.90" y="831.36" width="36.00" height="4.18" fill="#002828"/>
<rect x="815.90" y="834.34" width="36.00" height="2.81" fill="#004040"/>
<rect x="851.10" y="746.00" width="38.00" height="3.06" fill="#002828"/>
<rect x="851.10" y="747.86" width="38.00" height="11.50" fill="#006666"/>
<rect x="851.10" y="758.16" width="38.00" height="4.92" fill="#000c0c"/>
<rect x="851.10" y="761.88" width="38.00" height="7.90" fill="#009292"/>
<rect x="851.10" y="768.58" width="38.00" height="4.92" fill="#006666"/>
<rect x="851.10" y="772.30" width="38.00" height="5.67" fill="#000c0c"/>
<rect x="851.10" y="776.77" width="38.00" height="4.18" fill="#141200"/>
<rect x="851.10" y="779.75" width="38.00" height="4.92" fill="#000c0c"/>
<rect x="851.10" y="783.47" width="38.00" height="9.02" fill="#007c7c"/>
<rect x="851.10" y="791.29" width="38.00" height="5.29" fill="#2c2800"/>
<rect x="851.10" y="795.38" width="38.00" height="4.18" fill="#002828"/>
<rect x="851.10" y="798.36" width="38.00" height="4.67" fill="#2c2800"/>
<rect x="851.10" y="801.83" width="38.00" height="5.17" fill="#545000"/>
<rect x="851.10" y="805.80" width="38.00" height="4.92" fill="#007c7c"/>
<rect x="851.10" y="809.52" width="38.00" height="4.92" fill="#005353"/>
<rect x="851.10" y="813.25" width="38.00" height="11.87" fill="#007c7c"/>
<rect x="851.10" y="823.92" width="38.00" height="4.80" fill="#002828"/>
<rect x="851.10" y="827.51" width="38.00" height="5.05" fill="#7c7600"/>
<rect x="851.10" y="831.36" width="38.00" height="5.79" fill="#2c2800"/>
<rect x="893.80" y="746.00" width="36.40" height="6.41" fill="#002828"/>
<rect x="893.80" y="751.21" width="36.40" height="4.67" fill="#000c0c"/>
<rect x="893.80" y="754.68" width="36.40" height="8.40" fill="#141200"/>
<rect x="893.80" y="761.88" width="36.40" height="4.92" fill="#006666"/>
<rect x="893.80" y="765.60" width="36.40" height="4.18" fill="#000c0c"/>
<rect x="893.80" y="768.58" width="36.40" height="4.92" fill="#002828"/>
<rect x="893.80" y="772.30" width="36.40" height="5.67" fill="#141200"/>
<rect x="893.80" y="776.77" width="36.40" height="7.90" fill="#004040"/>
<rect x="893.80" y="783.47" width="36.40" height="4.67" fill="#141200"/>
<rect x="893.80" y="786.94" width="36.40" height="5.54" fill="#7c7600"/>
<rect x="893.80" y="791.29" width="36.40" height="4.92" fill="#000c0c"/>
<rect x="893.80" y="795.01" width="36.40" height="4.55" fill="#2c2800"/>
<rect x="893.80" y="798.36" width="36.40" height="4.67" fill="#141200"/>
<rect x="893.80" y="801.83" width="36.40" height="5.17" fill="#2c2800"/>
<rect x="893.80" y="805.80" width="36.40" height="4.92" fill="#000c0c"/>
<rect x="893.80" y="809.52" width="36.40" height="4.92" fill="#7c7600"/>
<rect x="893.80" y="813.25" width="36.40" height="4.43" fill="#141200"/>
<rect x="893.80" y="816.47" width="36.40" height="8.64" fill="#545000"/>
<rect x="893.80" y="823.92" width="36.40" height="4.80" fill="#002828"/>
<rect x="893.80" y="827.51" width="36.40" height="8.02" fill="#141200"/>
<rect x="893.80" y="834.34" width="36.40" height="2.81" fill="#002828"/>
<rect x="929.40" y="746.00" width="35.90" height="3.06" fill="#002828"/>
<rect x="929.40" y="747.86" width="35.90" height="8.02" fill="#007c7c"/>
<rect x="929.40" y="754.68" width="35.90" height="8.40" fill="#000c0c"/>
<rect x="929.40" y="761.88" width="35.90" height="5.42" fill="#00a9a9"/>
<rect x="929.40" y="766.10" width="35.90" height="3.68" fill="#004040"/>
<rect x="929.40" y="768.58" width="35.90" height="4.92" fill="#007c7c"/>
<rect x="929.40" y="772.30" width="35.90" height="5.67" fill="#545000"/>
<rect x="929.40" y="776.77" width="35.90" height="4.92" fill="#009292"/>
<rect x="929.40" y="780.49" width="35.90" height="4.18" fill="#006666"/>
<rect x="929.40" y="783.47" width="35.90" height="4.67" fill="#545000"/>
<rect x="929.40" y="786.94" width="35.90" height="5.91" fill="#d6d600"/>
<rect x="929.40" y="791.66" width="35.90" height="4.55" fill="#141200"/>
<rect x="929.40" y="795.01" width="35.90" height="4.55" fill="#545000"/>
<rect x="929.40" y="798.36" width="35.90" height="8.64" fill="#141200"/>
<rect x="929.40" y="805.80" width="35.90" height="4.92" fill="#002828"/>
<rect x="929.40" y="809.52" width="35.90" height="4.92" fill="#d6d600"/>
<rect x="929.40" y="813.25" width="35.90" height="8.64" fill="#a8a400"/>
<rect x="929.40" y="820.69" width="35.90" height="11.13" fill="#000c0c"/>
<rect x="929.40" y="830.62" width="35.90" height="5.29" fill="#7c7600"/>
<rect x="929.40" y="834.71" width="35.90" height="2.44" fill="#002828"/>
<rect x="964.50" y="746.00" width="36.20" height="3.06" fill="#002828"/>
<rect x="964.50" y="747.86" width="36.20" height="8.02" fill="#141200"/>
<rect x="964.50" y="754.68" width="36.20" height="4.67" fill="#005353"/>
<rect x="964.50" y="758.16" width="36.20" height="11.62" fill="#002828"/>
<rect x="964.50" y="768.58" width="36.20" height="9.39" fill="#005353"/>
<rect x="964.50" y="776.77" width="36.20" height="7.90" fill="#141200"/>
<rect x="964.50" y="783.47" width="36.20" height="4.92" fill="#6e6e6e"/>
<rect x="964.50" y="787.19" width="36.20" height="9.02" fill="#000c0c"/>
<rect x="964.50" y="795.01" width="36.20" height="8.02" fill="#002828"/>
<rect x="964.50" y="801.83" width="36.20" height="5.17" fill="#141200"/>
<rect x="964.50" y="805.80" width="36.20" height="4.92" fill="#6e6e6e"/>
<rect x="964.50" y="809.52" width="36.20" height="4.92" fill="#009292"/>
<rect x="964.50" y="813.25" width="36.20" height="11.87" fill="#002828"/>
<rect x="964.50" y="823.92" width="36.20" height="7.90" fill="#141200"/>
<rect x="964.50" y="830.62" width="36.20" height="5.29" fill="#2c2800"/>
<rect x="964.50" y="834.71" width="36.20" height="2.44" fill="#002828"/>
<rect x="999.90" y="746.00" width="37.90" height="9.88" fill="#002828"/>
<rect x="999.90" y="754.68" width="37.90" height="4.67" fill="#006666"/>
<rect x="999.90" y="758.16" width="37.90" height="4.92" fill="#002828"/>
<rect x="999.90" y="761.88" width="37.90" height="4.92" fill="#004040"/>
<rect x="999.90" y="765.60" width="37.90" height="4.92" fill="#2c2800"/>
<rect x="999.90" y="769.33" width="37.90" height="8.64" fill="#002828"/>
<rect x="999.90" y="776.77" width="37.90" height="4.18" fill="#141200"/>
<rect x="999.90" y="779.75" width="37.90" height="4.92" fill="#2c2800"/>
<rect x="999.90" y="783.47" width="37.90" height="4.92" fill="#00a9a9"/>
<rect x="999.90" y="787.19" width="37.90" height="9.02" fill="#000c0c"/>
<rect x="999.90" y="795.01" width="37.90" height="4.55" fill="#005353"/>
<rect x="999.90" y="798.36" width="37.90" height="4.67" fill="#000c0c"/>
<rect x="999.90" y="801.83" width="37.90" height="5.17" fill="#141200"/>
<rect x="999.90" y="805.80" width="37.90" height="4.92" fill="#007c7c"/>
<rect x="999.90" y="809.52" width="37.90" height="4.92" fill="#00a9a9"/>
<rect x="999.90" y="813.25" width="37.90" height="4.43" fill="#002828"/>
<rect x="999.90" y="816.47" width="37.90" height="5.42" fill="#005353"/>
<rect x="999.90" y="820.69" width="37.90" height="4.43" fill="#002828"/>
<rect x="999.90" y="823.92" width="37.90" height="4.80" fill="#2c2800"/>
<rect x="999.90" y="827.51" width="37.90" height="8.02" fill="#141200"/>
<rect x="999.90" y="834.34" width="37.90" height="2.81" fill="#004040"/>
<rect x="745.00" y="834.00" width="36.80" height="2.69" fill="#002828"/>
<rect x="745.00" y="835.49" width="36.80" height="4.67" fill="#006666"/>
<rect x="745.00" y="838.96" width="36.80" height="4.30" fill="#004040"/>
<rect x="745.00" y="842.06" width="36.80" height="5.29" fill="#00cccc"/>
<rect x="745.00" y="846.16" width="36.80" height="4.92" fill="#009292"/>
<rect x="745.00" y="849.88" width="36.80" height="4.92" fill="#000c0c"/>
<rect x="745.00" y="853.60" width="36.80" height="7.90" fill="#007c7c"/>
<rect x="745.00" y="860.30" width="36.80" height="4.92" fill="#004040"/>
<rect x="745.00" y="864.02" width="36.80" height="4.67" fill="#005353"/>
<rect x="745.00" y="867.50" width="36.80" height="5.17" fill="#007c7c"/>
<rect x="745.00" y="871.47" width="36.80" height="8.64" fill="#005353"/>
<rect x="745.00" y="878.91" width="36.80" height="11.87" fill="#009292"/>
<rect x="745.00" y="889.58" width="36.80" height="8.64" fill="#005353"/>
<rect x="745.00" y="897.03" width="36.80" height="4.92" fill="#009292"/>
<rect x="745.00" y="900.75" width="36.80" height="4.18" fill="#006666"/>
<rect x="745.00" y="903.73" width="36.80" height="9.87" fill="#009292"/>
<rect x="781.00" y="834.00" width="35.70" height="2.69" fill="#000c0c"/>
<rect x="781.00" y="835.49" width="35.70" height="4.67" fill="#6e6e6e"/>
<rect x="781.00" y="838.96" width="35.70" height="4.30" fill="#000c0c"/>
<rect x="781.00" y="842.06" width="35.70" height="5.29" fill="#00fcfc"/>
<rect x="781.00" y="846.16" width="35.70" height="4.92" fill="#00a9a9"/>
<rect x="781.00" y="849.88" width="35.70" height="4.92" fill="#005353"/>
<rect x="781.00" y="853.60" width="35.70" height="4.18" fill="#6e6e6e"/>
<rect x="781.00" y="856.58" width="35.70" height="4.92" fill="#00a9a9"/>
<rect x="781.00" y="860.30" width="35.70" height="4.92" fill="#005353"/>
<rect x="781.00" y="864.02" width="35.70" height="4.67" fill="#006666"/>
<rect x="781.00" y="867.50" width="35.70" height="5.17" fill="#009292"/>
<rect x="781.00" y="871.47" width="35.70" height="4.67" fill="#006666"/>
<rect x="781.00" y="874.94" width="35.70" height="5.17" fill="#007c7c"/>
<rect x="781.00" y="878.91" width="35.70" height="8.15" fill="#00a9a9"/>
<rect x="781.00" y="885.86" width="35.70" height="9.14" fill="#007c7c"/>
<rect x="781.00" y="893.80" width="35.70" height="8.64" fill="#006666"/>
<rect x="781.00" y="901.25" width="35.70" height="12.35" fill="#007c7c"/>
<rect x="815.90" y="834.00" width="36.00" height="2.69" fill="#002828"/>
<rect x="815.90" y="835.49" width="36.00" height="4.67" fill="#005353"/>
<rect x="815.90" y="838.96" width="36.00" height="4.30" fill="#000c0c"/>
<rect x="815.90" y="842.06" width="36.00" height="5.29" fill="#00fcfc"/>
<rect x="815.90" y="846.16" width="36.00" height="4.92" fill="#009292"/>
<rect x="815.90" y="849.88" width="36.00" height="4.92" fill="#006666"/>
<rect x="815.90" y="853.60" width="36.00" height="4.18" fill="#6e6e6e"/>
<rect x="815.90" y="856.58" width="36.00" height="4.92" fill="#009292"/>
<rect x="815.90" y="860.30" width="36.00" height="4.92" fill="#005353"/>
<rect x="815.90" y="864.02" width="36.00" height="12.12" fill="#007c7c"/>
<rect x="815.90" y="874.94" width="36.00" height="5.17" fill="#009292"/>
<rect x="815.90" y="878.91" width="36.00" height="8.15" fill="#00a9a9"/>
<rect x="815.90" y="885.86" width="36.00" height="9.14" fill="#006666"/>
<rect x="815.90" y="893.80" width="36.00" height="8.64" fill="#007c7c"/>
<rect x="815.90" y="901.25" width="36.00" height="12.35" fill="#007c7c"/>
<rect x="851.10" y="834.00" width="38.00" height="2.69" fill="#2c2800"/>
<rect x="851.10" y="835.49" width="38.00" height="4.67" fill="#002828"/>
<rect x="851.10" y="838.96" width="38.00" height="4.30" fill="#004040"/>
<rect x="851.10" y="842.06" width="38.00" height="5.29" fill="#00fcfc"/>
<rect x="851.10" y="846.16" width="38.00" height="4.92" fill="#006666"/>
<rect x="851.10" y="849.88" width="38.00" height="4.92" fill="#005353"/>
<rect x="851.10" y="853.60" width="38.00" height="4.18" fill="#009292"/>
<rect x="851.10" y="856.58" width="38.00" height="8.64" fill="#004040"/>
<rect x="851.10" y="864.02" width="38.00" height="4.67" fill="#000c0c"/>
<rect x="851.10" y="867.50" width="38.00" height="5.17" fill="#005353"/>
<rect x="851.10" y="871.47" width="38.00" height="8.64" fill="#002828"/>
<rect x="851.10" y="878.91" width="38.00" height="8.15" fill="#007c7c"/>
<rect x="851.10" y="885.86" width="38.00" height="9.14" fill="#000c0c"/>
<rect x="851.10" y="893.80" width="38.00" height="4.92" fill="#002828"/>
<rect x="851.10" y="897.52" width="38.00" height="7.40" fill="#004040"/>
<rect x="851.10" y="903.73" width="38.00" height="9.87" fill="#002828"/>
<rect x="893.80" y="834.00" width="36.40" height="2.69" fill="#141200"/>
<rect x="893.80" y="835.49" width="36.40" height="4.67" fill="#002828"/>
<rect x="893.80" y="838.96" width="36.40" height="4.30" fill="#6e6e6e"/>
<rect x="893.80" y="842.06" width="36.40" height="5.29" fill="#7c7600"/>
<rect x="893.80" y="846.16" width="36.40" height="4.92" fill="#545000"/>
<rect x="893.80" y="849.88" width="36.40" height="7.90" fill="#000c0c"/>
<rect x="893.80" y="856.58" width="36.40" height="4.92" fill="#7c7600"/>
<rect x="893.80" y="860.30" width="36.40" height="4.92" fill="#141200"/>
<rect x="893.80" y="864.02" width="36.40" height="4.67" fill="#004040"/>
<rect x="893.80" y="867.50" width="36.40" height="5.17" fill="#7c7600"/>
<rect x="893.80" y="871.47" width="36.40" height="4.67" fill="#545000"/>
<rect x="893.80" y="874.94" width="36.40" height="5.17" fill="#7c7600"/>
<rect x="893.80" y="878.91" width="36.40" height="5.29" fill="#000c0c"/>
<rect x="893.80" y="883.01" width="36.40" height="4.55" fill="#7c7600"/>
<rect x="893.80" y="886.36" width="36.40" height="4.67" fill="#a8a400"/>
<rect x="893.80" y="889.83" width="36.40" height="5.17" fill="#545000"/>
<rect x="893.80" y="893.80" width="36.40" height="8.64" fill="#7c7600"/>
<rect x="893.80" y="901.25" width="36.40" height="3.68" fill="#545000"/>
<rect x="893.80" y="903.73" width="36.40" height="9.87" fill="#d6d600"/>
<rect x="929.40" y="834.00" width="35.90" height="2.69" fill="#7c7600"/>
<rect x="929.40" y="835.49" width="35.90" height="7.78" fill="#141200"/>
<rect x="929.40" y="842.06" width="35.90" height="5.29" fill="#7c7600"/>
<rect x="929.40" y="846.16" width="35.90" height="4.92" fill="#a8a400"/>
<rect x="929.40" y="849.88" width="35.90" height="4.92" fill="#000c0c"/>
<rect x="929.40" y="853.60" width="35.90" height="4.18" fill="#545000"/>
<rect x="929.40" y="856.58" width="35.90" height="4.92" fill="#d6d600"/>
<rect x="929.40" y="860.30" width="35.90" height="4.92" fill="#545000"/>
<rect x="929.40" y="864.02" width="35.90" height="4.67" fill="#000c0c"/>
<rect x="929.40" y="867.50" width="35.90" height="5.17" fill="#a8a400"/>
<rect x="929.40" y="871.47" width="35.90" height="4.67" fill="#7c7600"/>
<rect x="929.40" y="874.94" width="35.90" height="5.17" fill="#a8a400"/>
<rect x="929.40" y="878.91" width="35.90" height="5.29" fill="#545000"/>
<rect x="929.40" y="883.01" width="35.90" height="7.78" fill="#fcfc00"/>
<rect x="929.40" y="889.58" width="35.90" height="5.42" fill="#545000"/>
<rect x="929.40" y="893.80" width="35.90" height="8.64" fill="#d6d600"/>
<rect x="929.40" y="901.25" width="35.90" height="3.68" fill="#7c7600"/>
<rect x="929.40" y="903.73" width="35.90" height="9.87" fill="#fcfc00"/>
<rect x="964.50" y="834.00" width="36.20" height="12.99" fill="#141200"/>
<rect x="964.50" y="845.79" width="36.20" height="5.29" fill="#00cccc"/>
<rect x="964.50" y="849.88" width="36.20" height="7.90" fill="#000c0c"/>
<rect x="964.50" y="856.58" width="36.20" height="4.92" fill="#009292"/>
<rect x="964.50" y="860.30" width="36.20" height="4.92" fill="#004040"/>
<rect x="964.50" y="864.02" width="36.20" height="5.29" fill="#00fcfc"/>
<rect x="964.50" y="868.12" width="36.20" height="4.55" fill="#006666"/>
<rect x="964.50" y="871.47" width="36.20" height="4.67" fill="#004040"/>
<rect x="964.50" y="874.94" width="36.20" height="9.26" fill="#005353"/>
<rect x="964.50" y="883.01" width="36.20" height="4.55" fill="#00cccc"/>
<rect x="964.50" y="886.36" width="36.20" height="4.67" fill="#009292"/>
<rect x="964.50" y="889.83" width="36.20" height="5.17" fill="#005353"/>
<rect x="964.50" y="893.80" width="36.20" height="4.92" fill="#000c0c"/>
<rect x="964.50" y="897.52" width="36.20" height="4.92" fill="#002828"/>
<rect x="964.50" y="901.25" width="36.20" height="3.68" fill="#006666"/>
<rect x="964.50" y="903.73" width="36.20" height="9.87" fill="#009292"/>
<rect x="999.90" y="834.00" width="37.90" height="2.69" fill="#141200"/>
<rect x="999.90" y="835.49" width="37.90" height="4.67" fill="#005353"/>
<rect x="999.90" y="838.96" width="37.90" height="4.30" fill="#141200"/>
<rect x="999.90" y="842.06" width="37.90" height="4.92" fill="#002828"/>
<rect x="999.90" y="845.79" width="37.90" height="5.29" fill="#00fcfc"/>
<rect x="999.90" y="849.88" width="37.90" height="7.90" fill="#2c2800"/>
<rect x="999.90" y="856.58" width="37.90" height="4.92" fill="#00cccc"/>
<rect x="999.90" y="860.30" width="37.90" height="4.92" fill="#000c0c"/>
<rect x="999.90" y="864.02" width="37.90" height="5.29" fill="#00fcfc"/>
<rect x="999.90" y="868.12" width="37.90" height="4.55" fill="#009292"/>
<rect x="999.90" y="871.47" width="37.90" height="4.67" fill="#002828"/>
<rect x="999.90" y="874.94" width="37.90" height="9.26" fill="#006666"/>
<rect x="999.90" y="883.01" width="37.90" height="4.55" fill="#00fcfc"/>
<rect x="999.90" y="886.36" width="37.90" height="4.67" fill="#007c7c"/>
<rect x="999.90" y="889.83" width="37.90" height="5.17" fill="#006666"/>
<rect x="999.90" y="893.80" width="37.90" height="8.64" fill="#004040"/>
<rect x="999.90" y="901.25" width="37.90" height="3.68" fill="#006666"/>
<rect x="999.90" y="903.73" width="37.90" height="9.87" fill="#00cccc"/>
</g></g>
<text transform="translate(1141.00,311.70) scale(1,1.04)" font-size="29" text-anchor="middle" fill="#000" >Relative</text>
<text transform="translate(1141.00,340.70) scale(1,1.04)" font-size="29" text-anchor="middle" fill="#000" >mRNA</text>
<text transform="translate(1141.00,369.70) scale(1,1.04)" font-size="29" text-anchor="middle" fill="#000" >expression</text>
<text transform="translate(1109.30,398.70) scale(1,1.04)" font-size="29" text-anchor="start" fill="#000" >log<tspan font-size="17" dy="9.6">2</tspan></text>
<text transform="translate(1141.00,427.60) scale(1,1.04)" font-size="29" text-anchor="middle" fill="#000" >(shRNA/</text>
<text transform="translate(1141.00,456.60) scale(1,1.04)" font-size="29" text-anchor="middle" fill="#000" >shCtrl.)</text>
<rect x="1120.10" y="474.90" width="31.70" height="32.16" fill="#ffff00"/>
<text transform="translate(1198.40,496.50) scale(1,0.95)" font-size="24.6" text-anchor="end" fill="#000" >1.5</text>
<rect x="1120.10" y="506.76" width="31.70" height="32.16" fill="#aaaa00"/>
<text transform="translate(1198.40,528.36) scale(1,0.95)" font-size="24.6" text-anchor="end" fill="#000" >1.0</text>
<rect x="1120.10" y="538.61" width="31.70" height="32.16" fill="#555500"/>
<text transform="translate(1198.40,560.21) scale(1,0.95)" font-size="24.6" text-anchor="end" fill="#000" >0.5</text>
<rect x="1120.10" y="570.47" width="31.70" height="32.16" fill="#000000"/>
<text transform="translate(1198.40,592.07) scale(1,0.95)" font-size="24.6" text-anchor="end" fill="#000" >0.0</text>
<rect x="1120.10" y="602.33" width="31.70" height="32.16" fill="#005555"/>
<text transform="translate(1198.40,623.93) scale(1,0.95)" font-size="24.6" text-anchor="end" fill="#000" >-0.5</text>
<rect x="1120.10" y="634.19" width="31.70" height="32.16" fill="#00aaaa"/>
<text transform="translate(1198.40,655.79) scale(1,0.95)" font-size="24.6" text-anchor="end" fill="#000" >-1.0</text>
<rect x="1120.10" y="666.04" width="31.70" height="32.16" fill="#00ffff"/>
<text transform="translate(1198.40,687.64) scale(1,0.95)" font-size="24.6" text-anchor="end" fill="#000" >-1.5</text>
</g>
<g id="panel-c">
<text transform="translate(10.00,980.90) scale(1,1.0)" font-size="59" text-anchor="start" fill="#000" >c</text>
<text transform="translate(224.00,963.70) scale(1,1.04)" font-size="29" text-anchor="middle" fill="#000" >Signature</text>
<line x1="149.00" y1="969.50" x2="310.20" y2="969.50" stroke="#000" stroke-width="2" />
<line x1="319.00" y1="980.30" x2="319.00" y2="1320.70" stroke="#000" stroke-width="2" />
<line x1="318.00" y1="1319.70" x2="543.70" y2="1319.70" stroke="#000" stroke-width="2" />
<line x1="312.30" y1="996.80" x2="319.00" y2="996.80" stroke="#000" stroke-width="2" />
<text transform="translate(308.60,1000.10) scale(1,1.04)" font-size="29" text-anchor="end" fill="#000" >MYD88Up-1</text>
<rect x="320.00" y="986.20" width="200.00" height="8.50" fill="#0a28ff"/>
<rect x="320.00" y="998.90" width="154.40" height="8.50" fill="#0a96ff"/>
<line x1="312.30" y1="1030.82" x2="319.00" y2="1030.82" stroke="#000" stroke-width="2" />
<text transform="translate(308.60,1034.12) scale(1,1.04)" font-size="29" text-anchor="end" fill="#000" >JAK2Up-1</text>
<rect x="320.00" y="1020.22" width="179.00" height="8.50" fill="#0a28ff"/>
<rect x="320.00" y="1032.92" width="162.10" height="8.50" fill="#0a96ff"/>
<line x1="312.30" y1="1064.84" x2="319.00" y2="1064.84" stroke="#000" stroke-width="2" />
<text transform="translate(308.60,1068.14) scale(1,1.04)" font-size="29" text-anchor="end" fill="#000" >NFkB-10</text>
<rect x="320.00" y="1054.24" width="175.30" height="8.50" fill="#0a28ff"/>
<rect x="320.00" y="1066.94" width="155.00" height="8.50" fill="#0a96ff"/>
<line x1="312.30" y1="1098.86" x2="319.00" y2="1098.86" stroke="#000" stroke-width="2" />
<text transform="translate(308.60,1102.16) scale(1,1.04)" font-size="29" text-anchor="end" fill="#000" >MYD88Up-2</text>
<rect x="320.00" y="1088.26" width="167.90" height="8.50" fill="#0a28ff"/>
<rect x="320.00" y="1100.96" width="142.00" height="8.50" fill="#0a96ff"/>
<line x1="312.30" y1="1132.88" x2="319.00" y2="1132.88" stroke="#000" stroke-width="2" />
<text transform="translate(308.60,1136.18) scale(1,1.04)" font-size="29" text-anchor="end" fill="#000" >BCRUp-2</text>
<rect x="320.00" y="1122.28" width="165.80" height="8.50" fill="#0a28ff"/>
<rect x="320.00" y="1134.98" width="139.10" height="8.50" fill="#0a96ff"/>
<line x1="312.30" y1="1166.90" x2="319.00" y2="1166.90" stroke="#000" stroke-width="2" />
<text transform="translate(308.60,1170.20) scale(1,1.04)" font-size="29" text-anchor="end" fill="#000" >JAK2Up-2</text>
<rect x="320.00" y="1156.30" width="154.70" height="8.50" fill="#0a28ff"/>
<rect x="320.00" y="1169.00" width="146.00" height="8.50" fill="#0a96ff"/>
<line x1="312.30" y1="1200.92" x2="319.00" y2="1200.92" stroke="#000" stroke-width="2" />
<text transform="translate(308.60,1204.22) scale(1,1.04)" font-size="29" text-anchor="end" fill="#000" >NFkB-9</text>
<rect x="320.00" y="1190.32" width="146.80" height="8.50" fill="#0a28ff"/>
<rect x="320.00" y="1203.02" width="104.70" height="8.50" fill="#0a96ff"/>
<line x1="312.30" y1="1234.94" x2="319.00" y2="1234.94" stroke="#000" stroke-width="2" />
<text transform="translate(308.60,1238.24) scale(1,1.04)" font-size="29" text-anchor="end" fill="#000" >MYD88Up-3</text>
<rect x="320.00" y="1224.34" width="135.40" height="8.50" fill="#0a28ff"/>
<rect x="320.00" y="1237.04" width="131.90" height="8.50" fill="#0a96ff"/>
<line x1="312.30" y1="1268.96" x2="319.00" y2="1268.96" stroke="#000" stroke-width="2" />
<text transform="translate(308.60,1272.26) scale(1,1.04)" font-size="29" text-anchor="end" fill="#000" >IRF4-5</text>
<rect x="320.00" y="1258.36" width="98.30" height="8.50" fill="#0a28ff"/>
<rect x="320.00" y="1271.06" width="105.50" height="8.50" fill="#0a96ff"/>
<line x1="312.30" y1="1302.98" x2="319.00" y2="1302.98" stroke="#000" stroke-width="2" />
<text transform="translate(308.60,1306.28) scale(1,1.04)" font-size="29" text-anchor="end" fill="#000" >MycUP-4</text>
<rect x="320.00" y="1292.38" width="95.90" height="8.50" fill="#0a28ff"/>
<rect x="320.00" y="1305.08" width="105.50" height="8.50" fill="#0a96ff"/>
<line x1="319.00" y1="1319.70" x2="319.00" y2="1326.70" stroke="#000" stroke-width="2" />
<text transform="translate(319.00,1349.30) scale(1,1.04)" font-size="24.5" text-anchor="middle" fill="#000" >1</text>
<line x1="352.67" y1="1319.70" x2="352.67" y2="1323.70" stroke="#000" stroke-width="1.6" />
<line x1="372.37" y1="1319.70" x2="372.37" y2="1323.70" stroke="#000" stroke-width="1.6" />
<line x1="386.34" y1="1319.70" x2="386.34" y2="1323.70" stroke="#000" stroke-width="1.6" />
<line x1="397.18" y1="1319.70" x2="397.18" y2="1323.70" stroke="#000" stroke-width="1.6" />
<line x1="406.04" y1="1319.70" x2="406.04" y2="1323.70" stroke="#000" stroke-width="1.6" />
<line x1="413.52" y1="1319.70" x2="413.52" y2="1323.70" stroke="#000" stroke-width="1.6" />
<line x1="420.01" y1="1319.70" x2="420.01" y2="1323.70" stroke="#000" stroke-width="1.6" />
<line x1="425.73" y1="1319.70" x2="425.73" y2="1323.70" stroke="#000" stroke-width="1.6" />
<line x1="430.85" y1="1319.70" x2="430.85" y2="1326.70" stroke="#000" stroke-width="2" />
<text transform="translate(429.85,1349.30) scale(1,1.04)" font-size="24.5" text-anchor="middle" fill="#000" >10</text>
<line x1="464.52" y1="1319.70" x2="464.52" y2="1323.70" stroke="#000" stroke-width="1.6" />
<line x1="484.22" y1="1319.70" x2="484.22" y2="1323.70" stroke="#000" stroke-width="1.6" />
<line x1="498.19" y1="1319.70" x2="498.19" y2="1323.70" stroke="#000" stroke-width="1.6" />
<line x1="509.03" y1="1319.70" x2="509.03" y2="1323.70" stroke="#000" stroke-width="1.6" />
<line x1="517.89" y1="1319.70" x2="517.89" y2="1323.70" stroke="#000" stroke-width="1.6" />
<line x1="525.37" y1="1319.70" x2="525.37" y2="1323.70" stroke="#000" stroke-width="1.6" />
<line x1="531.86" y1="1319.70" x2="531.86" y2="1323.70" stroke="#000" stroke-width="1.6" />
<line x1="537.58" y1="1319.70" x2="537.58" y2="1323.70" stroke="#000" stroke-width="1.6" />
<line x1="542.70" y1="1319.70" x2="542.70" y2="1326.70" stroke="#000" stroke-width="2" />
<text transform="translate(540.50,1349.30) scale(1,1.04)" font-size="24.5" text-anchor="middle" fill="#000" >100</text>
<text transform="translate(440.50,1381.00) scale(1,1.04)" font-size="29" text-anchor="middle" fill="#000" >Overlap with shTLR9</text>
<text transform="translate(440.00,1409.70) scale(1,1.04)" font-size="29" text-anchor="middle" fill="#000" >downregulated genes</text>
<text transform="translate(440.00,1438.80) scale(1,1.04)" font-size="29" text-anchor="middle" fill="#000" >(–log<tspan font-size="17" dy="9">10</tspan><tspan dy="-9"> p-value)</tspan></text>
<rect x="445.00" y="1267.60" width="17.50" height="15.80" fill="#0000f0"/>
<rect x="445.00" y="1293.40" width="17.50" height="16.20" fill="#1482ff"/>
<text transform="translate(468.30,1281.30) scale(1,1.04)" font-size="28" text-anchor="start" fill="#000" >HBL1</text>
<text transform="translate(468.30,1307.30) scale(1,1.04)" font-size="28" text-anchor="start" fill="#000" >TMD8</text>
</g>
<g id="panel-d">
<text transform="translate(709.50,986.20) scale(1,1.0)" font-size="56" text-anchor="start" fill="#000" >d</text>
<text transform="translate(936.30,968.00) scale(1,1.04)" font-size="29" text-anchor="end" fill="#000" >Day:</text>
<text transform="translate(948.80,968.00) scale(1,1.04)" font-size="29" text-anchor="middle" fill="#000" >0</text>
<text transform="translate(973.20,968.00) scale(1,1.04)" font-size="29" text-anchor="middle" fill="#000" >1</text>
<text transform="translate(996.50,968.00) scale(1,1.04)" font-size="29" text-anchor="middle" fill="#000" >2</text>
<text transform="translate(935.80,993.20) scale(1,1.04)" font-size="29" text-anchor="end" fill="#000" >shCtrl.</text>
<text transform="translate(934.30,1019.40) scale(1,1.04)" font-size="29" text-anchor="end" fill="#000" >shTLR9</text>
<rect x="938.20" y="972.90" width="20.60" height="20.00" fill="#b2b2b2"/>
<rect x="962.55" y="972.90" width="20.60" height="20.00" fill="#6a6a6a"/>
<rect x="986.90" y="972.90" width="20.60" height="20.00" fill="#000000"/>
<rect x="938.20" y="998.90" width="20.60" height="20.40" fill="#00bfff"/>
<rect x="962.55" y="998.90" width="20.60" height="20.40" fill="#0a80ff"/>
<rect x="986.90" y="998.90" width="20.60" height="20.40" fill="#0000ff"/>
<line x1="811.70" y1="1019.80" x2="811.70" y2="1386.30" stroke="#000" stroke-width="2" />
<line x1="804.00" y1="1385.30" x2="1154.80" y2="1385.30" stroke="#000" stroke-width="2" />
<line x1="804.00" y1="1385.30" x2="811.70" y2="1385.30" stroke="#000" stroke-width="2" />
<text transform="translate(800.30,1391.60) scale(1,1.04)" font-size="25.5" text-anchor="end" fill="#000" >0</text>
<line x1="804.00" y1="1312.40" x2="811.70" y2="1312.40" stroke="#000" stroke-width="2" />
<text transform="translate(800.30,1318.70) scale(1,1.04)" font-size="25.5" text-anchor="end" fill="#000" >0.5</text>
<line x1="804.00" y1="1239.50" x2="811.70" y2="1239.50" stroke="#000" stroke-width="2" />
<text transform="translate(800.30,1245.80) scale(1,1.04)" font-size="25.5" text-anchor="end" fill="#000" >1.0</text>
<line x1="804.00" y1="1166.60" x2="811.70" y2="1166.60" stroke="#000" stroke-width="2" />
<text transform="translate(800.30,1172.90) scale(1,1.04)" font-size="25.5" text-anchor="end" fill="#000" >1.5</text>
<line x1="804.00" y1="1093.70" x2="811.70" y2="1093.70" stroke="#000" stroke-width="2" />
<text transform="translate(800.30,1100.00) scale(1,1.04)" font-size="25.5" text-anchor="end" fill="#000" >2.0</text>
<line x1="804.00" y1="1020.80" x2="811.70" y2="1020.80" stroke="#000" stroke-width="2" />
<text transform="translate(800.30,1027.10) scale(1,1.04)" font-size="25.5" text-anchor="end" fill="#000" >2.5</text>
<text transform="translate(755.30,1203.50) rotate(-90) scale(1,1.04)" font-size="28.8" text-anchor="middle">I<tspan letter-spacing="3">κ</tspan>B<tspan font-size="32" letter-spacing="1.5">α</tspan>-luciferase (% shCtrl.)</text>
<rect x="836.00" y="1239.50" width="25.40" height="145.80" fill="#b2b2b2"/>
<rect x="865.20" y="1239.50" width="25.40" height="145.80" fill="#6a6a6a"/>
<rect x="894.30" y="1239.50" width="25.40" height="145.80" fill="#000000"/>
<rect x="940.00" y="1205.97" width="25.40" height="179.33" fill="#00bfff"/>
<rect x="969.20" y="1156.39" width="25.40" height="228.91" fill="#0a80ff"/>
<rect x="998.30" y="1137.44" width="25.40" height="247.86" fill="#0000ff"/>
<rect x="1046.20" y="1217.63" width="25.40" height="167.67" fill="#00bfff"/>
<rect x="1075.60" y="1185.55" width="25.40" height="199.75" fill="#0a80ff"/>
<rect x="1104.70" y="1159.31" width="25.40" height="225.99" fill="#0000ff"/>
<line x1="848.70" y1="1239.50" x2="848.70" y2="1236.58" stroke="#000" stroke-width="1.8" />
<line x1="842.20" y1="1236.58" x2="855.20" y2="1236.58" stroke="#000" stroke-width="1.8" />
<circle cx="848.7" cy="1229.0" r="4.35" fill="#fff" stroke="#000" stroke-width="2.1"/>
<circle cx="848.7" cy="1230.8" r="4.35" fill="#fff" stroke="#000" stroke-width="2.1"/>
<circle cx="848.7" cy="1238.2" r="4.35" fill="#fff" stroke="#000" stroke-width="2.1"/>
<circle cx="848.7" cy="1245.7" r="4.35" fill="#fff" stroke="#000" stroke-width="2.1"/>
<circle cx="848.7" cy="1253.1" r="4.35" fill="#fff" stroke="#000" stroke-width="2.1"/>
<line x1="877.90" y1="1239.50" x2="877.90" y2="1236.58" stroke="#000" stroke-width="1.8" />
<line x1="871.40" y1="1236.58" x2="884.40" y2="1236.58" stroke="#000" stroke-width="1.8" />
<circle cx="877.9" cy="1226.0" r="4.35" fill="#fff" stroke="#000" stroke-width="2.1"/>
<circle cx="871.9" cy="1231.0" r="4.35" fill="#fff" stroke="#000" stroke-width="2.1"/>
<circle cx="883.9" cy="1230.0" r="4.35" fill="#fff" stroke="#000" stroke-width="2.1"/>
<circle cx="877.9" cy="1239.0" r="4.35" fill="#fff" stroke="#000" stroke-width="2.1"/>
<circle cx="871.9" cy="1246.0" r="4.35" fill="#fff" stroke="#000" stroke-width="2.1"/>
<circle cx="877.9" cy="1253.0" r="4.35" fill="#fff" stroke="#000" stroke-width="2.1"/>
<circle cx="883.9" cy="1253.0" r="4.35" fill="#fff" stroke="#000" stroke-width="2.1"/>
<circle cx="873.9" cy="1236.0" r="4.35" fill="#fff" stroke="#000" stroke-width="2.1"/>
<line x1="907.00" y1="1239.50" x2="907.00" y2="1236.58" stroke="#000" stroke-width="1.8" />
<line x1="900.50" y1="1236.58" x2="913.50" y2="1236.58" stroke="#000" stroke-width="1.8" />
<circle cx="907.0" cy="1231.0" r="4.35" fill="#fff" stroke="#000" stroke-width="2.1"/>
<circle cx="907.0" cy="1239.0" r="4.35" fill="#fff" stroke="#000" stroke-width="2.1"/>
<circle cx="907.0" cy="1244.5" r="4.35" fill="#fff" stroke="#000" stroke-width="2.1"/>
<circle cx="907.0" cy="1251.5" r="4.35" fill="#fff" stroke="#000" stroke-width="2.1"/>
<line x1="952.70" y1="1205.97" x2="952.70" y2="1199.40" stroke="#000" stroke-width="1.8" />
<line x1="946.20" y1="1199.40" x2="959.20" y2="1199.40" stroke="#000" stroke-width="1.8" />
<circle cx="952.7" cy="1165.3" r="4.35" fill="#fff" stroke="#000" stroke-width="2.1"/>
<circle cx="952.7" cy="1197.7" r="4.35" fill="#fff" stroke="#000" stroke-width="2.1"/>
<circle cx="952.7" cy="1204.3" r="4.35" fill="#fff" stroke="#000" stroke-width="2.1"/>
<circle cx="952.7" cy="1225.7" r="4.35" fill="#fff" stroke="#000" stroke-width="2.1"/>
<circle cx="952.7" cy="1235.5" r="4.35" fill="#fff" stroke="#000" stroke-width="2.1"/>
<line x1="981.90" y1="1156.39" x2="981.90" y2="1146.48" stroke="#000" stroke-width="1.8" />
<line x1="975.40" y1="1146.48" x2="988.40" y2="1146.48" stroke="#000" stroke-width="1.8" />
<circle cx="981.9" cy="1111.2" r="4.35" fill="#fff" stroke="#000" stroke-width="2.1"/>
<circle cx="981.9" cy="1116.8" r="4.35" fill="#fff" stroke="#000" stroke-width="2.1"/>
<circle cx="981.9" cy="1132.1" r="4.35" fill="#fff" stroke="#000" stroke-width="2.1"/>
<circle cx="981.9" cy="1151.3" r="4.35" fill="#fff" stroke="#000" stroke-width="2.1"/>
<circle cx="981.9" cy="1157.7" r="4.35" fill="#fff" stroke="#000" stroke-width="2.1"/>
<circle cx="981.9" cy="1175.6" r="4.35" fill="#fff" stroke="#000" stroke-width="2.1"/>
<circle cx="981.9" cy="1178.9" r="4.35" fill="#fff" stroke="#000" stroke-width="2.1"/>
<circle cx="981.9" cy="1195.0" r="4.35" fill="#fff" stroke="#000" stroke-width="2.1"/>
<line x1="1011.00" y1="1137.44" x2="1011.00" y2="1128.11" stroke="#000" stroke-width="1.8" />
<line x1="1004.50" y1="1128.11" x2="1017.50" y2="1128.11" stroke="#000" stroke-width="1.8" />
<circle cx="1011.0" cy="1091.2" r="4.35" fill="#fff" stroke="#000" stroke-width="2.1"/>
<circle cx="1011.0" cy="1100.9" r="4.35" fill="#fff" stroke="#000" stroke-width="2.1"/>
<circle cx="1011.0" cy="1117.3" r="4.35" fill="#fff" stroke="#000" stroke-width="2.1"/>
<circle cx="1011.0" cy="1138.5" r="4.35" fill="#fff" stroke="#000" stroke-width="2.1"/>
<circle cx="1011.0" cy="1144.9" r="4.35" fill="#fff" stroke="#000" stroke-width="2.1"/>
<circle cx="1018.0" cy="1169.9" r="4.35" fill="#fff" stroke="#000" stroke-width="2.1"/>
<line x1="1058.90" y1="1217.63" x2="1058.90" y2="1208.15" stroke="#000" stroke-width="1.8" />
<line x1="1052.40" y1="1208.15" x2="1065.40" y2="1208.15" stroke="#000" stroke-width="1.8" />
<circle cx="1058.9" cy="1171.2" r="4.35" fill="#fff" stroke="#000" stroke-width="2.1"/>
<circle cx="1058.9" cy="1186.3" r="4.35" fill="#fff" stroke="#000" stroke-width="2.1"/>
<circle cx="1058.9" cy="1198.6" r="4.35" fill="#fff" stroke="#000" stroke-width="2.1"/>
<circle cx="1058.9" cy="1200.7" r="4.35" fill="#fff" stroke="#000" stroke-width="2.1"/>
<circle cx="1058.9" cy="1222.0" r="4.35" fill="#fff" stroke="#000" stroke-width="2.1"/>
<circle cx="1058.9" cy="1228.3" r="4.35" fill="#fff" stroke="#000" stroke-width="2.1"/>
<circle cx="1058.9" cy="1234.7" r="4.35" fill="#fff" stroke="#000" stroke-width="2.1"/>
<circle cx="1062.3" cy="1250.6" r="4.35" fill="#fff" stroke="#000" stroke-width="2.1"/>
<circle cx="1056.4" cy="1256.4" r="4.35" fill="#fff" stroke="#000" stroke-width="2.1"/>
<line x1="1088.30" y1="1185.55" x2="1088.30" y2="1169.22" stroke="#000" stroke-width="1.8" />
<line x1="1081.80" y1="1169.22" x2="1094.80" y2="1169.22" stroke="#000" stroke-width="1.8" />
<circle cx="1088.3" cy="1117.3" r="4.35" fill="#fff" stroke="#000" stroke-width="2.1"/>
<circle cx="1088.3" cy="1134.7" r="4.35" fill="#fff" stroke="#000" stroke-width="2.1"/>
<circle cx="1088.3" cy="1138.0" r="4.35" fill="#fff" stroke="#000" stroke-width="2.1"/>
<circle cx="1088.3" cy="1182.0" r="4.35" fill="#fff" stroke="#000" stroke-width="2.1"/>
<circle cx="1088.3" cy="1188.3" r="4.35" fill="#fff" stroke="#000" stroke-width="2.1"/>
<circle cx="1088.3" cy="1232.7" r="4.35" fill="#fff" stroke="#000" stroke-width="2.1"/>
<circle cx="1088.3" cy="1244.2" r="4.35" fill="#fff" stroke="#000" stroke-width="2.1"/>
<circle cx="1088.3" cy="1255.9" r="4.35" fill="#fff" stroke="#000" stroke-width="2.1"/>
<line x1="1117.40" y1="1159.31" x2="1117.40" y2="1139.63" stroke="#000" stroke-width="1.8" />
<line x1="1110.90" y1="1139.63" x2="1123.90" y2="1139.63" stroke="#000" stroke-width="1.8" />
<circle cx="1117.4" cy="1068.7" r="4.35" fill="#fff" stroke="#000" stroke-width="2.1"/>
<circle cx="1117.4" cy="1085.6" r="4.35" fill="#fff" stroke="#000" stroke-width="2.1"/>
<circle cx="1117.4" cy="1100.2" r="4.35" fill="#fff" stroke="#000" stroke-width="2.1"/>
<circle cx="1117.4" cy="1165.3" r="4.35" fill="#fff" stroke="#000" stroke-width="2.1"/>
<circle cx="1117.4" cy="1177.6" r="4.35" fill="#fff" stroke="#000" stroke-width="2.1"/>
<circle cx="1117.4" cy="1184.5" r="4.35" fill="#fff" stroke="#000" stroke-width="2.1"/>
<circle cx="1117.4" cy="1213.8" r="4.35" fill="#fff" stroke="#000" stroke-width="2.1"/>
<circle cx="1117.4" cy="1221.2" r="4.35" fill="#fff" stroke="#000" stroke-width="2.1"/>
<circle cx="1117.4" cy="1228.3" r="4.35" fill="#fff" stroke="#000" stroke-width="2.1"/>
<text transform="translate(981.70,1097.60) scale(1,1.04)" font-size="19" text-anchor="middle" fill="#000" letter-spacing="0.6" style="stroke-width:0.1px">***</text>
<text transform="translate(1011.10,1056.60) scale(1,1.04)" font-size="19" text-anchor="middle" fill="#000" letter-spacing="0.6" style="stroke-width:0.1px">***</text>
<text transform="translate(1088.20,1097.60) scale(1,1.04)" font-size="19" text-anchor="middle" fill="#000" letter-spacing="0.6" style="stroke-width:0.1px">*</text>
<text transform="translate(1117.60,1056.60) scale(1,1.04)" font-size="19" text-anchor="middle" fill="#000" letter-spacing="0.6" style="stroke-width:0.1px">***</text>
<text transform="translate(858.80,1413.10) scale(1,1.04)" font-size="29" text-anchor="middle" fill="#000" >Ctrl.</text>
<text transform="translate(981.20,1413.10) scale(1,1.04)" font-size="29" text-anchor="middle" fill="#000" >TLR9</text>
<text transform="translate(1087.80,1413.10) scale(1,1.04)" font-size="29" text-anchor="middle" fill="#000" >TLR9</text>
<text transform="translate(980.50,1440.30) scale(1,1.04)" font-size="28" text-anchor="middle" fill="#000" >#1</text>
<text transform="translate(1087.80,1440.30) scale(1,1.04)" font-size="28" text-anchor="middle" fill="#000" >#2</text>
<polyline points="823,1441 823,1447.2 1141.5,1447.2 1141.5,1441" fill="none" stroke="#000" stroke-width="1.8"/>
<text transform="translate(982.30,1475.20) scale(1,1.04)" font-size="29" text-anchor="middle" fill="#000" >shRNA</text>
</g>
</svg>
</body>
</html>
